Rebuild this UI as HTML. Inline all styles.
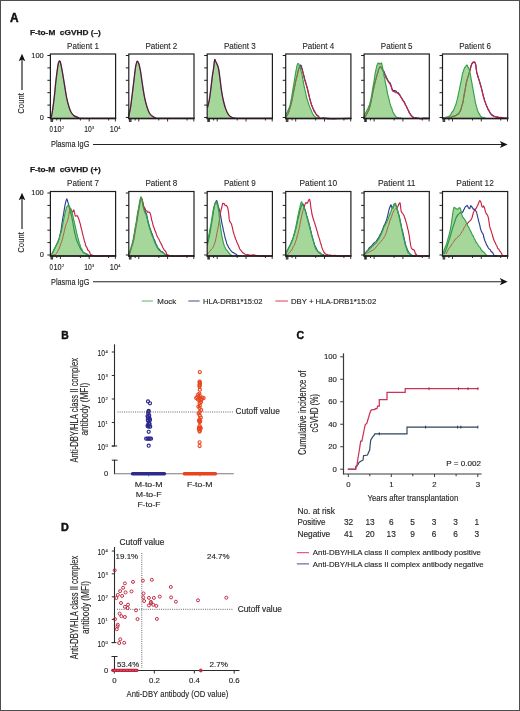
<!DOCTYPE html>
<html><head><meta charset="utf-8"><title>Figure</title>
<style>
html,body{margin:0;padding:0;background:#fff;}
body{width:520px;height:711px;overflow:hidden;}
svg{display:block;will-change:transform;}
text{font-family:"Liberation Sans", sans-serif;white-space:pre;}
</style></head>
<body>
<svg width="520" height="711" viewBox="0 0 520 711">
<rect x="0" y="0" width="520" height="711" fill="#fff"/>
<text x="10.1" y="21.6" font-size="12.2" font-weight="bold" textLength="8.6" lengthAdjust="spacingAndGlyphs" fill="#111" stroke="#111" stroke-width="0.45">A</text>
<g id="panelA">
<text x="30" y="34.7" font-size="7.8" font-weight="bold" textLength="70.8" lengthAdjust="spacingAndGlyphs" fill="#1a1a1a" stroke="#1a1a1a" stroke-width="0.25">F-to-M  cGVHD (–)</text>
<line x1="22" y1="58.3" x2="22" y2="89.89999999999999" stroke="#1a1a1a" stroke-width="1.15"/>
<path d="M22,53.699999999999996 L25.3,61.199999999999996 L22,59.599999999999994 L18.7,61.199999999999996 Z" stroke="none" stroke-width="0" fill="#111"/>
<text x="24.5" y="113.7" font-size="9.4" textLength="20.6" lengthAdjust="spacingAndGlyphs" transform="rotate(-90 24.5 113.7)" fill="#262626" stroke="#262626" stroke-width="0.14">Count</text>
<text x="43.8" y="57.6" font-size="7.4" text-anchor="end" textLength="12.5" lengthAdjust="spacingAndGlyphs" fill="#262626" stroke="#262626" stroke-width="0.14">100</text>
<text x="43.8" y="119.6" font-size="7.4" text-anchor="end" fill="#262626" stroke="#262626" stroke-width="0.14">0</text>
<text x="83.0" y="48.9" font-size="8.8" text-anchor="middle" textLength="31.8" lengthAdjust="spacingAndGlyphs" fill="#262626" stroke="#262626" stroke-width="0.1">Patient 1</text>
<clipPath id="f00"><path d="M50.48,117.50 C50.65,117.31 51.08,117.98 51.49,116.35 C51.90,114.71 52.45,111.06 52.93,107.69 C53.41,104.33 53.89,100.48 54.38,96.15 C54.86,91.83 55.34,86.06 55.82,81.73 C56.30,77.40 56.85,73.20 57.26,70.19 C57.67,67.19 57.91,65.26 58.27,63.70 C58.63,62.14 59.04,60.94 59.42,60.82 C59.81,60.70 60.10,61.18 60.58,62.98 C61.06,64.78 61.66,68.03 62.31,71.63 C62.96,75.24 63.75,80.29 64.47,84.62 C65.19,88.94 65.91,93.99 66.63,97.60 C67.36,101.20 68.08,103.85 68.80,106.25 C69.52,108.65 70.12,110.46 70.96,112.02 C71.80,113.58 72.64,114.71 73.85,115.62 C75.05,116.54 76.73,117.05 78.17,117.50 C79.62,117.95 76.25,118.17 82.50,118.30 C88.75,118.43 110.14,118.30 115.67,118.30 L115.67,118.0 L50.48,118.0 Z"/></clipPath>
<path d="M50.48,117.50 C50.65,117.31 51.08,117.98 51.49,116.35 C51.90,114.71 52.45,111.06 52.93,107.69 C53.41,104.33 53.89,100.48 54.38,96.15 C54.86,91.83 55.34,86.06 55.82,81.73 C56.30,77.40 56.85,73.20 57.26,70.19 C57.67,67.19 57.91,65.26 58.27,63.70 C58.63,62.14 59.04,60.94 59.42,60.82 C59.81,60.70 60.10,61.18 60.58,62.98 C61.06,64.78 61.66,68.03 62.31,71.63 C62.96,75.24 63.75,80.29 64.47,84.62 C65.19,88.94 65.91,93.99 66.63,97.60 C67.36,101.20 68.08,103.85 68.80,106.25 C69.52,108.65 70.12,110.46 70.96,112.02 C71.80,113.58 72.64,114.71 73.85,115.62 C75.05,116.54 76.73,117.05 78.17,117.50 C79.62,117.95 76.25,118.17 82.50,118.30 C88.75,118.43 110.14,118.30 115.67,118.30 L115.67,118.0 L50.48,118.0 Z" stroke="none" stroke-width="0" fill="#a6d79a"/>
<path d="M50.48,117.50 C50.65,117.31 51.08,117.98 51.49,116.35 C51.90,114.71 52.45,111.06 52.93,107.69 C53.41,104.33 53.89,100.48 54.38,96.15 C54.86,91.83 55.34,86.06 55.82,81.73 C56.30,77.40 56.85,73.20 57.26,70.19 C57.67,67.19 57.91,65.26 58.27,63.70 C58.63,62.14 59.04,60.94 59.42,60.82 C59.81,60.70 60.10,61.18 60.58,62.98 C61.06,64.78 61.66,68.03 62.31,71.63 C62.96,75.24 63.75,80.29 64.47,84.62 C65.19,88.94 65.91,93.99 66.63,97.60 C67.36,101.20 68.08,103.85 68.80,106.25 C69.52,108.65 70.12,110.46 70.96,112.02 C71.80,113.58 72.64,114.71 73.85,115.62 C75.05,116.54 76.73,117.05 78.17,117.50 C79.62,117.95 76.25,118.17 82.50,118.30 C88.75,118.43 110.14,118.30 115.67,118.30" stroke="#6a1b3a" stroke-width="1.3" fill="none" stroke-linejoin="round"/>
<path d="M50.48,117.50 C50.65,117.31 51.08,117.98 51.49,116.35 C51.90,114.71 52.45,111.06 52.93,107.69 C53.41,104.33 53.89,100.48 54.38,96.15 C54.86,91.83 55.34,86.06 55.82,81.73 C56.30,77.40 56.85,73.20 57.26,70.19 C57.67,67.19 57.91,65.26 58.27,63.70 C58.63,62.14 59.04,60.94 59.42,60.82 C59.81,60.70 60.10,61.18 60.58,62.98 C61.06,64.78 61.66,68.03 62.31,71.63 C62.96,75.24 63.75,80.29 64.47,84.62 C65.19,88.94 65.91,93.99 66.63,97.60 C67.36,101.20 68.08,103.85 68.80,106.25 C69.52,108.65 70.12,110.46 70.96,112.02 C71.80,113.58 72.64,114.71 73.85,115.62 C75.05,116.54 76.73,117.05 78.17,117.50 C79.62,117.95 76.25,118.17 82.50,118.30 C88.75,118.43 110.14,118.30 115.67,118.30" stroke="#1f2a44" stroke-width="0.7" fill="none" stroke-linejoin="round" stroke-opacity="0.6"/>
<rect x="50.4" y="54.0" width="65.2" height="64.5" fill="none" stroke="#1e1e1e" stroke-width="1.2"/>
<line x1="49.8" y1="118.5" x2="116.19999999999999" y2="118.5" stroke="#241a22" stroke-width="1.6"/>
<line x1="47.4" y1="55.5" x2="50.4" y2="55.5" stroke="#1e1e1e" stroke-width="1"/>
<line x1="47.4" y1="67.9" x2="50.4" y2="67.9" stroke="#1e1e1e" stroke-width="1"/>
<line x1="47.4" y1="80.3" x2="50.4" y2="80.3" stroke="#1e1e1e" stroke-width="1"/>
<line x1="47.4" y1="92.7" x2="50.4" y2="92.7" stroke="#1e1e1e" stroke-width="1"/>
<line x1="47.4" y1="105.1" x2="50.4" y2="105.1" stroke="#1e1e1e" stroke-width="1"/>
<line x1="47.4" y1="117.5" x2="50.4" y2="117.5" stroke="#1e1e1e" stroke-width="1"/>
<line x1="51.0" y1="118.5" x2="51.0" y2="122.0" stroke="#1e1e1e" stroke-width="0.9"/>
<line x1="51.8" y1="118.5" x2="51.8" y2="122.0" stroke="#1e1e1e" stroke-width="0.9"/>
<line x1="52.6" y1="118.5" x2="52.6" y2="122.0" stroke="#1e1e1e" stroke-width="0.9"/>
<line x1="56.8" y1="118.5" x2="56.8" y2="120.5" stroke="#1e1e1e" stroke-width="0.9"/>
<line x1="60.4" y1="118.5" x2="60.4" y2="121.5" stroke="#1e1e1e" stroke-width="0.9"/>
<line x1="80.4" y1="118.5" x2="80.4" y2="120.5" stroke="#1e1e1e" stroke-width="0.9"/>
<line x1="89.19999999999999" y1="118.5" x2="89.19999999999999" y2="121.5" stroke="#1e1e1e" stroke-width="0.9"/>
<line x1="108.6" y1="118.5" x2="108.6" y2="120.5" stroke="#1e1e1e" stroke-width="0.9"/>
<line x1="115.4" y1="118.5" x2="115.4" y2="121.5" stroke="#1e1e1e" stroke-width="0.9"/>
<text x="161.4" y="48.9" font-size="8.8" text-anchor="middle" textLength="31.8" lengthAdjust="spacingAndGlyphs" fill="#262626" stroke="#262626" stroke-width="0.1">Patient 2</text>
<clipPath id="f01"><path d="M128.33,117.50 C128.38,117.31 128.25,117.98 128.62,116.35 C128.98,114.71 129.87,111.54 130.49,107.69 C131.12,103.85 131.76,98.08 132.37,93.27 C132.97,88.46 133.57,83.17 134.10,78.85 C134.62,74.52 135.11,70.07 135.54,67.31 C135.97,64.54 136.38,63.27 136.69,62.26 C137.00,61.25 137.05,61.01 137.41,61.25 C137.77,61.49 138.33,61.97 138.86,63.70 C139.38,65.43 139.99,68.15 140.59,71.63 C141.19,75.12 141.79,80.29 142.46,84.62 C143.13,88.94 143.90,93.99 144.62,97.60 C145.35,101.20 146.02,103.73 146.79,106.25 C147.56,108.77 148.35,111.11 149.24,112.74 C150.13,114.38 150.92,115.13 152.12,116.06 C153.33,116.98 154.89,117.93 156.45,118.30 C158.01,118.67 155.32,118.30 161.50,118.30 C167.68,118.30 188.18,118.30 193.52,118.30 L193.52,118.0 L128.33,118.0 Z"/></clipPath>
<path d="M128.33,117.50 C128.38,117.31 128.25,117.98 128.62,116.35 C128.98,114.71 129.87,111.54 130.49,107.69 C131.12,103.85 131.76,98.08 132.37,93.27 C132.97,88.46 133.57,83.17 134.10,78.85 C134.62,74.52 135.11,70.07 135.54,67.31 C135.97,64.54 136.38,63.27 136.69,62.26 C137.00,61.25 137.05,61.01 137.41,61.25 C137.77,61.49 138.33,61.97 138.86,63.70 C139.38,65.43 139.99,68.15 140.59,71.63 C141.19,75.12 141.79,80.29 142.46,84.62 C143.13,88.94 143.90,93.99 144.62,97.60 C145.35,101.20 146.02,103.73 146.79,106.25 C147.56,108.77 148.35,111.11 149.24,112.74 C150.13,114.38 150.92,115.13 152.12,116.06 C153.33,116.98 154.89,117.93 156.45,118.30 C158.01,118.67 155.32,118.30 161.50,118.30 C167.68,118.30 188.18,118.30 193.52,118.30 L193.52,118.0 L128.33,118.0 Z" stroke="none" stroke-width="0" fill="#a6d79a"/>
<path d="M128.33,117.50 C128.38,117.31 128.25,117.98 128.62,116.35 C128.98,114.71 129.87,111.54 130.49,107.69 C131.12,103.85 131.76,98.08 132.37,93.27 C132.97,88.46 133.57,83.17 134.10,78.85 C134.62,74.52 135.11,70.07 135.54,67.31 C135.97,64.54 136.38,63.27 136.69,62.26 C137.00,61.25 137.05,61.01 137.41,61.25 C137.77,61.49 138.33,61.97 138.86,63.70 C139.38,65.43 139.99,68.15 140.59,71.63 C141.19,75.12 141.79,80.29 142.46,84.62 C143.13,88.94 143.90,93.99 144.62,97.60 C145.35,101.20 146.02,103.73 146.79,106.25 C147.56,108.77 148.35,111.11 149.24,112.74 C150.13,114.38 150.92,115.13 152.12,116.06 C153.33,116.98 154.89,117.93 156.45,118.30 C158.01,118.67 155.32,118.30 161.50,118.30 C167.68,118.30 188.18,118.30 193.52,118.30" stroke="#6a1b3a" stroke-width="1.3" fill="none" stroke-linejoin="round"/>
<path d="M128.33,117.50 C128.38,117.31 128.25,117.98 128.62,116.35 C128.98,114.71 129.87,111.54 130.49,107.69 C131.12,103.85 131.76,98.08 132.37,93.27 C132.97,88.46 133.57,83.17 134.10,78.85 C134.62,74.52 135.11,70.07 135.54,67.31 C135.97,64.54 136.38,63.27 136.69,62.26 C137.00,61.25 137.05,61.01 137.41,61.25 C137.77,61.49 138.33,61.97 138.86,63.70 C139.38,65.43 139.99,68.15 140.59,71.63 C141.19,75.12 141.79,80.29 142.46,84.62 C143.13,88.94 143.90,93.99 144.62,97.60 C145.35,101.20 146.02,103.73 146.79,106.25 C147.56,108.77 148.35,111.11 149.24,112.74 C150.13,114.38 150.92,115.13 152.12,116.06 C153.33,116.98 154.89,117.93 156.45,118.30 C158.01,118.67 155.32,118.30 161.50,118.30 C167.68,118.30 188.18,118.30 193.52,118.30" stroke="#1f2a44" stroke-width="0.7" fill="none" stroke-linejoin="round" stroke-opacity="0.6"/>
<rect x="128.8" y="54.0" width="65.2" height="64.5" fill="none" stroke="#1e1e1e" stroke-width="1.2"/>
<line x1="128.20000000000002" y1="118.5" x2="194.6" y2="118.5" stroke="#241a22" stroke-width="1.6"/>
<line x1="125.80000000000001" y1="55.5" x2="128.8" y2="55.5" stroke="#1e1e1e" stroke-width="1"/>
<line x1="125.80000000000001" y1="67.9" x2="128.8" y2="67.9" stroke="#1e1e1e" stroke-width="1"/>
<line x1="125.80000000000001" y1="80.3" x2="128.8" y2="80.3" stroke="#1e1e1e" stroke-width="1"/>
<line x1="125.80000000000001" y1="92.7" x2="128.8" y2="92.7" stroke="#1e1e1e" stroke-width="1"/>
<line x1="125.80000000000001" y1="105.1" x2="128.8" y2="105.1" stroke="#1e1e1e" stroke-width="1"/>
<line x1="125.80000000000001" y1="117.5" x2="128.8" y2="117.5" stroke="#1e1e1e" stroke-width="1"/>
<line x1="129.4" y1="118.5" x2="129.4" y2="122.0" stroke="#1e1e1e" stroke-width="0.9"/>
<line x1="130.20000000000002" y1="118.5" x2="130.20000000000002" y2="122.0" stroke="#1e1e1e" stroke-width="0.9"/>
<line x1="131.0" y1="118.5" x2="131.0" y2="122.0" stroke="#1e1e1e" stroke-width="0.9"/>
<line x1="135.20000000000002" y1="118.5" x2="135.20000000000002" y2="120.5" stroke="#1e1e1e" stroke-width="0.9"/>
<line x1="138.8" y1="118.5" x2="138.8" y2="121.5" stroke="#1e1e1e" stroke-width="0.9"/>
<line x1="158.8" y1="118.5" x2="158.8" y2="120.5" stroke="#1e1e1e" stroke-width="0.9"/>
<line x1="167.60000000000002" y1="118.5" x2="167.60000000000002" y2="121.5" stroke="#1e1e1e" stroke-width="0.9"/>
<line x1="187.0" y1="118.5" x2="187.0" y2="120.5" stroke="#1e1e1e" stroke-width="0.9"/>
<line x1="193.8" y1="118.5" x2="193.8" y2="121.5" stroke="#1e1e1e" stroke-width="0.9"/>
<text x="239.79999999999998" y="48.9" font-size="8.8" text-anchor="middle" textLength="31.8" lengthAdjust="spacingAndGlyphs" fill="#262626" stroke="#262626" stroke-width="0.1">Patient 3</text>
<clipPath id="f02"><path d="M207.48,107.69 C207.77,106.49 208.68,103.37 209.21,100.48 C209.74,97.60 210.12,94.47 210.65,90.38 C211.18,86.30 211.90,79.57 212.38,75.96 C212.87,72.36 213.15,71.44 213.54,68.75 C213.92,66.06 214.33,61.01 214.69,59.81 C215.05,58.61 215.29,60.77 215.70,61.54 C216.11,62.31 216.66,63.22 217.14,64.42 C217.62,65.62 218.11,66.35 218.59,68.75 C219.07,71.15 219.55,75.24 220.03,78.85 C220.51,82.45 220.92,86.78 221.47,90.38 C222.02,93.99 222.62,97.36 223.35,100.48 C224.07,103.61 224.91,106.73 225.80,109.13 C226.69,111.54 227.60,113.51 228.68,114.90 C229.76,116.30 230.49,116.93 232.29,117.50 C234.09,118.07 232.77,118.17 239.50,118.30 C246.23,118.43 267.14,118.30 272.67,118.30 L272.67,118.0 L207.48,118.0 Z"/></clipPath>
<path d="M207.48,107.69 C207.77,106.49 208.68,103.37 209.21,100.48 C209.74,97.60 210.12,94.47 210.65,90.38 C211.18,86.30 211.90,79.57 212.38,75.96 C212.87,72.36 213.15,71.44 213.54,68.75 C213.92,66.06 214.33,61.01 214.69,59.81 C215.05,58.61 215.29,60.77 215.70,61.54 C216.11,62.31 216.66,63.22 217.14,64.42 C217.62,65.62 218.11,66.35 218.59,68.75 C219.07,71.15 219.55,75.24 220.03,78.85 C220.51,82.45 220.92,86.78 221.47,90.38 C222.02,93.99 222.62,97.36 223.35,100.48 C224.07,103.61 224.91,106.73 225.80,109.13 C226.69,111.54 227.60,113.51 228.68,114.90 C229.76,116.30 230.49,116.93 232.29,117.50 C234.09,118.07 232.77,118.17 239.50,118.30 C246.23,118.43 267.14,118.30 272.67,118.30 L272.67,118.0 L207.48,118.0 Z" stroke="none" stroke-width="0" fill="#a6d79a"/>
<path d="M207.48,107.69 C207.77,106.49 208.68,103.37 209.21,100.48 C209.74,97.60 210.12,94.47 210.65,90.38 C211.18,86.30 211.90,79.57 212.38,75.96 C212.87,72.36 213.15,71.44 213.54,68.75 C213.92,66.06 214.33,61.01 214.69,59.81 C215.05,58.61 215.29,60.77 215.70,61.54 C216.11,62.31 216.66,63.22 217.14,64.42 C217.62,65.62 218.11,66.35 218.59,68.75 C219.07,71.15 219.55,75.24 220.03,78.85 C220.51,82.45 220.92,86.78 221.47,90.38 C222.02,93.99 222.62,97.36 223.35,100.48 C224.07,103.61 224.91,106.73 225.80,109.13 C226.69,111.54 227.60,113.51 228.68,114.90 C229.76,116.30 230.49,116.93 232.29,117.50 C234.09,118.07 232.77,118.17 239.50,118.30 C246.23,118.43 267.14,118.30 272.67,118.30" stroke="#6a1b3a" stroke-width="1.3" fill="none" stroke-linejoin="round"/>
<path d="M207.48,107.69 C207.77,106.49 208.68,103.37 209.21,100.48 C209.74,97.60 210.12,94.47 210.65,90.38 C211.18,86.30 211.90,79.57 212.38,75.96 C212.87,72.36 213.15,71.44 213.54,68.75 C213.92,66.06 214.33,61.01 214.69,59.81 C215.05,58.61 215.29,60.77 215.70,61.54 C216.11,62.31 216.66,63.22 217.14,64.42 C217.62,65.62 218.11,66.35 218.59,68.75 C219.07,71.15 219.55,75.24 220.03,78.85 C220.51,82.45 220.92,86.78 221.47,90.38 C222.02,93.99 222.62,97.36 223.35,100.48 C224.07,103.61 224.91,106.73 225.80,109.13 C226.69,111.54 227.60,113.51 228.68,114.90 C229.76,116.30 230.49,116.93 232.29,117.50 C234.09,118.07 232.77,118.17 239.50,118.30 C246.23,118.43 267.14,118.30 272.67,118.30" stroke="#1f2a44" stroke-width="0.7" fill="none" stroke-linejoin="round" stroke-opacity="0.6"/>
<rect x="207.2" y="54.0" width="65.2" height="64.5" fill="none" stroke="#1e1e1e" stroke-width="1.2"/>
<line x1="206.6" y1="118.5" x2="273.0" y2="118.5" stroke="#241a22" stroke-width="1.6"/>
<line x1="204.2" y1="55.5" x2="207.2" y2="55.5" stroke="#1e1e1e" stroke-width="1"/>
<line x1="204.2" y1="67.9" x2="207.2" y2="67.9" stroke="#1e1e1e" stroke-width="1"/>
<line x1="204.2" y1="80.3" x2="207.2" y2="80.3" stroke="#1e1e1e" stroke-width="1"/>
<line x1="204.2" y1="92.7" x2="207.2" y2="92.7" stroke="#1e1e1e" stroke-width="1"/>
<line x1="204.2" y1="105.1" x2="207.2" y2="105.1" stroke="#1e1e1e" stroke-width="1"/>
<line x1="204.2" y1="117.5" x2="207.2" y2="117.5" stroke="#1e1e1e" stroke-width="1"/>
<line x1="207.79999999999998" y1="118.5" x2="207.79999999999998" y2="122.0" stroke="#1e1e1e" stroke-width="0.9"/>
<line x1="208.6" y1="118.5" x2="208.6" y2="122.0" stroke="#1e1e1e" stroke-width="0.9"/>
<line x1="209.39999999999998" y1="118.5" x2="209.39999999999998" y2="122.0" stroke="#1e1e1e" stroke-width="0.9"/>
<line x1="213.6" y1="118.5" x2="213.6" y2="120.5" stroke="#1e1e1e" stroke-width="0.9"/>
<line x1="217.2" y1="118.5" x2="217.2" y2="121.5" stroke="#1e1e1e" stroke-width="0.9"/>
<line x1="237.2" y1="118.5" x2="237.2" y2="120.5" stroke="#1e1e1e" stroke-width="0.9"/>
<line x1="246.0" y1="118.5" x2="246.0" y2="121.5" stroke="#1e1e1e" stroke-width="0.9"/>
<line x1="265.4" y1="118.5" x2="265.4" y2="120.5" stroke="#1e1e1e" stroke-width="0.9"/>
<line x1="272.2" y1="118.5" x2="272.2" y2="121.5" stroke="#1e1e1e" stroke-width="0.9"/>
<text x="318.29999999999995" y="48.9" font-size="8.8" text-anchor="middle" textLength="31.8" lengthAdjust="spacingAndGlyphs" fill="#262626" stroke="#262626" stroke-width="0.1">Patient 4</text>
<clipPath id="f03"><path d="M285.48,117.50 C285.65,116.83 285.72,115.58 286.49,113.46 C287.26,111.35 288.89,109.62 290.10,104.81 C291.30,100.00 292.74,90.14 293.70,84.62 C294.66,79.09 295.22,75.12 295.87,71.63 C296.51,68.15 297.00,64.66 297.60,63.70 C298.20,62.74 298.80,64.30 299.47,65.87 C300.14,67.43 300.91,69.95 301.63,73.08 C302.36,76.20 303.08,81.01 303.80,84.62 C304.52,88.22 305.12,91.35 305.96,94.71 C306.80,98.08 307.76,101.68 308.85,104.81 C309.93,107.93 311.37,111.42 312.45,113.46 C313.53,115.50 314.25,116.26 315.34,117.07 C316.42,117.87 318.34,118.09 318.94,118.30 L318.94,118.0 L285.48,118.0 Z"/></clipPath>
<path d="M285.48,118.30 L285.92,117.07 L286.54,116.07 L287.25,115.01 L287.99,113.79 L288.65,111.69 L289.25,109.96 L289.83,108.22 L290.40,106.69 L290.97,103.96 L291.54,102.14 L292.12,99.44 L292.69,96.07 L293.27,93.41 L293.85,90.31 L294.42,87.42 L295.01,85.18 L295.61,81.60 L296.21,78.85 L296.78,77.17 L297.31,74.43 L297.80,72.23 L298.26,70.52 L298.69,68.93 L299.10,68.09 L299.47,66.33 L299.81,65.54 L300.10,65.34 L300.37,65.04 L300.64,65.37 L300.91,65.45 L301.19,65.44 L301.46,65.99 L301.73,67.45 L302.02,68.68 L302.36,69.05 L302.73,71.11 L303.13,72.86 L303.57,74.46 L304.03,75.95 L304.52,78.39 L305.05,80.30 L305.62,81.88 L306.22,84.41 L306.82,86.20 L307.40,88.24 L307.97,90.77 L308.52,93.12 L309.08,95.54 L309.67,98.09 L310.29,100.49 L310.95,102.78 L311.64,104.96 L312.37,107.05 L313.12,108.81 L313.89,110.11 L314.70,111.53 L315.54,113.31 L316.40,114.45 L317.30,115.62 L318.22,115.98 L318.83,116.75 L319.12,117.90 L319.61,117.95 L320.82,118.28 L323.27,117.94 L327.76,118.33 L333.94,118.81 L340.61,118.53 L346.59,118.77 L350.67,118.30" stroke="#2b3f8f" stroke-width="1.15" fill="none" stroke-linejoin="round"/>
<path d="M285.48,118.30 L285.92,117.17 L286.54,116.27 L287.25,115.11 L287.99,114.22 L288.65,112.30 L289.25,110.82 L289.83,108.41 L290.40,106.77 L290.97,104.88 L291.54,102.23 L292.12,99.98 L292.69,97.03 L293.27,93.55 L293.85,90.20 L294.42,88.02 L295.01,84.67 L295.61,81.77 L296.21,79.72 L296.78,77.32 L297.31,75.11 L297.80,73.30 L298.26,70.92 L298.69,69.35 L299.10,68.18 L299.47,68.03 L299.81,66.64 L300.10,66.39 L300.37,66.21 L300.64,66.36 L300.91,66.60 L301.19,67.24 L301.46,67.56 L301.73,68.36 L302.02,69.78 L302.36,70.18 L302.73,72.14 L303.13,73.71 L303.57,75.38 L304.03,77.30 L304.52,79.38 L305.05,81.12 L305.62,82.76 L306.22,84.87 L306.82,86.87 L307.40,89.14 L307.97,91.91 L308.52,93.75 L309.08,95.80 L309.67,98.51 L310.29,101.05 L310.95,102.90 L311.64,105.30 L312.37,106.84 L313.12,108.75 L313.89,111.01 L314.70,111.96 L315.54,113.50 L316.40,114.73 L317.30,115.54 L318.22,116.22 L318.83,116.81 L319.12,118.08 L319.61,118.12 L320.82,118.55 L323.27,118.29 L327.76,118.82 L333.94,118.75 L340.61,118.49 L346.59,118.35 L350.67,118.30" stroke="#c8203f" stroke-width="1.15" fill="none" stroke-linejoin="round"/>
<path d="M285.48,117.50 C285.65,116.83 285.72,115.58 286.49,113.46 C287.26,111.35 288.89,109.62 290.10,104.81 C291.30,100.00 292.74,90.14 293.70,84.62 C294.66,79.09 295.22,75.12 295.87,71.63 C296.51,68.15 297.00,64.66 297.60,63.70 C298.20,62.74 298.80,64.30 299.47,65.87 C300.14,67.43 300.91,69.95 301.63,73.08 C302.36,76.20 303.08,81.01 303.80,84.62 C304.52,88.22 305.12,91.35 305.96,94.71 C306.80,98.08 307.76,101.68 308.85,104.81 C309.93,107.93 311.37,111.42 312.45,113.46 C313.53,115.50 314.25,116.26 315.34,117.07 C316.42,117.87 318.34,118.09 318.94,118.30 L318.94,118.0 L285.48,118.0 Z" stroke="none" stroke-width="0" fill="#a6d79a"/>
<g clip-path="url(#f03)">
<path d="M285.48,118.30 L285.92,117.07 L286.54,116.07 L287.25,115.01 L287.99,113.79 L288.65,111.69 L289.25,109.96 L289.83,108.22 L290.40,106.69 L290.97,103.96 L291.54,102.14 L292.12,99.44 L292.69,96.07 L293.27,93.41 L293.85,90.31 L294.42,87.42 L295.01,85.18 L295.61,81.60 L296.21,78.85 L296.78,77.17 L297.31,74.43 L297.80,72.23 L298.26,70.52 L298.69,68.93 L299.10,68.09 L299.47,66.33 L299.81,65.54 L300.10,65.34 L300.37,65.04 L300.64,65.37 L300.91,65.45 L301.19,65.44 L301.46,65.99 L301.73,67.45 L302.02,68.68 L302.36,69.05 L302.73,71.11 L303.13,72.86 L303.57,74.46 L304.03,75.95 L304.52,78.39 L305.05,80.30 L305.62,81.88 L306.22,84.41 L306.82,86.20 L307.40,88.24 L307.97,90.77 L308.52,93.12 L309.08,95.54 L309.67,98.09 L310.29,100.49 L310.95,102.78 L311.64,104.96 L312.37,107.05 L313.12,108.81 L313.89,110.11 L314.70,111.53 L315.54,113.31 L316.40,114.45 L317.30,115.62 L318.22,115.98 L318.83,116.75 L319.12,117.90 L319.61,117.95 L320.82,118.28 L323.27,117.94 L327.76,118.33 L333.94,118.81 L340.61,118.53 L346.59,118.77 L350.67,118.30" stroke="#2f8f55" stroke-width="1.15" fill="none" stroke-linejoin="round"/>
<path d="M285.48,118.30 L285.92,117.17 L286.54,116.27 L287.25,115.11 L287.99,114.22 L288.65,112.30 L289.25,110.82 L289.83,108.41 L290.40,106.77 L290.97,104.88 L291.54,102.23 L292.12,99.98 L292.69,97.03 L293.27,93.55 L293.85,90.20 L294.42,88.02 L295.01,84.67 L295.61,81.77 L296.21,79.72 L296.78,77.32 L297.31,75.11 L297.80,73.30 L298.26,70.92 L298.69,69.35 L299.10,68.18 L299.47,68.03 L299.81,66.64 L300.10,66.39 L300.37,66.21 L300.64,66.36 L300.91,66.60 L301.19,67.24 L301.46,67.56 L301.73,68.36 L302.02,69.78 L302.36,70.18 L302.73,72.14 L303.13,73.71 L303.57,75.38 L304.03,77.30 L304.52,79.38 L305.05,81.12 L305.62,82.76 L306.22,84.87 L306.82,86.87 L307.40,89.14 L307.97,91.91 L308.52,93.75 L309.08,95.80 L309.67,98.51 L310.29,101.05 L310.95,102.90 L311.64,105.30 L312.37,106.84 L313.12,108.75 L313.89,111.01 L314.70,111.96 L315.54,113.50 L316.40,114.73 L317.30,115.54 L318.22,116.22 L318.83,116.81 L319.12,118.08 L319.61,118.12 L320.82,118.55 L323.27,118.29 L327.76,118.82 L333.94,118.75 L340.61,118.49 L346.59,118.35 L350.67,118.30" stroke="#a4663e" stroke-width="1.0" fill="none" stroke-linejoin="round"/>
</g>
<path d="M285.48,117.50 L285.58,117.09 L285.69,116.52 L285.85,115.89 L286.11,114.43 L286.49,113.60 L287.05,112.56 L287.75,111.25 L288.53,109.04 L289.33,107.49 L290.10,104.91 L290.84,101.40 L291.61,97.63 L292.36,92.75 L293.07,88.33 L293.70,85.01 L294.23,81.60 L294.69,78.48 L295.10,75.95 L295.48,73.79 L295.87,71.23 L296.24,69.66 L296.58,67.83 L296.91,65.84 L297.25,64.87 L297.60,64.09 L297.96,63.46 L298.32,63.76 L298.69,63.81 L299.08,64.55 L299.47,66.30 L299.89,66.72 L300.32,67.92 L300.76,70.00 L301.20,71.50 L301.63,72.74 L302.07,74.97 L302.50,77.22 L302.93,79.69 L303.37,81.89 L303.80,84.64 L304.22,86.55 L304.63,88.66 L305.04,90.46 L305.48,92.36 L305.96,94.29 L306.48,97.09 L307.03,99.04 L307.61,100.93 L308.21,102.54 L308.85,104.49 L309.53,106.37 L310.27,108.45 L311.03,110.03 L311.77,111.87 L312.45,113.19 L313.06,114.27 L313.62,115.52 L314.17,116.00 L314.73,116.55 L315.34,116.94 L316.07,117.52 L316.90,118.05 L317.73,117.84 L318.44,117.78 L318.94,118.30" stroke="#34a049" stroke-width="1.15" fill="none" stroke-linejoin="round"/>
<rect x="285.7" y="54.0" width="65.2" height="64.5" fill="none" stroke="#1e1e1e" stroke-width="1.2"/>
<line x1="285.09999999999997" y1="118.5" x2="351.5" y2="118.5" stroke="#241a22" stroke-width="1.6"/>
<line x1="282.7" y1="55.5" x2="285.7" y2="55.5" stroke="#1e1e1e" stroke-width="1"/>
<line x1="282.7" y1="67.9" x2="285.7" y2="67.9" stroke="#1e1e1e" stroke-width="1"/>
<line x1="282.7" y1="80.3" x2="285.7" y2="80.3" stroke="#1e1e1e" stroke-width="1"/>
<line x1="282.7" y1="92.7" x2="285.7" y2="92.7" stroke="#1e1e1e" stroke-width="1"/>
<line x1="282.7" y1="105.1" x2="285.7" y2="105.1" stroke="#1e1e1e" stroke-width="1"/>
<line x1="282.7" y1="117.5" x2="285.7" y2="117.5" stroke="#1e1e1e" stroke-width="1"/>
<line x1="286.3" y1="118.5" x2="286.3" y2="122.0" stroke="#1e1e1e" stroke-width="0.9"/>
<line x1="287.09999999999997" y1="118.5" x2="287.09999999999997" y2="122.0" stroke="#1e1e1e" stroke-width="0.9"/>
<line x1="287.9" y1="118.5" x2="287.9" y2="122.0" stroke="#1e1e1e" stroke-width="0.9"/>
<line x1="292.09999999999997" y1="118.5" x2="292.09999999999997" y2="120.5" stroke="#1e1e1e" stroke-width="0.9"/>
<line x1="295.7" y1="118.5" x2="295.7" y2="121.5" stroke="#1e1e1e" stroke-width="0.9"/>
<line x1="315.7" y1="118.5" x2="315.7" y2="120.5" stroke="#1e1e1e" stroke-width="0.9"/>
<line x1="324.5" y1="118.5" x2="324.5" y2="121.5" stroke="#1e1e1e" stroke-width="0.9"/>
<line x1="343.9" y1="118.5" x2="343.9" y2="120.5" stroke="#1e1e1e" stroke-width="0.9"/>
<line x1="350.7" y1="118.5" x2="350.7" y2="121.5" stroke="#1e1e1e" stroke-width="0.9"/>
<text x="396.70000000000005" y="48.9" font-size="8.8" text-anchor="middle" textLength="31.8" lengthAdjust="spacingAndGlyphs" fill="#262626" stroke="#262626" stroke-width="0.1">Patient 5</text>
<clipPath id="f04"><path d="M363.77,117.50 C364.01,116.83 364.25,115.58 365.21,113.46 C366.17,111.35 368.34,108.65 369.54,104.81 C370.74,100.96 371.46,95.67 372.42,90.38 C373.38,85.10 374.54,77.28 375.31,73.08 C376.08,68.87 376.51,66.78 377.04,65.14 C377.57,63.51 378.00,63.49 378.48,63.27 C378.96,63.05 379.42,63.85 379.92,63.85 C380.43,63.85 381.03,62.45 381.51,63.27 C381.99,64.09 382.28,66.15 382.81,68.75 C383.34,71.35 383.89,74.76 384.68,78.85 C385.48,82.93 386.61,88.94 387.57,93.27 C388.53,97.60 389.37,101.32 390.45,104.81 C391.53,108.29 392.98,112.07 394.06,114.18 C395.14,116.30 395.74,116.81 396.94,117.50 C398.14,118.19 400.55,118.17 401.27,118.30 L401.27,118.0 L363.77,118.0 Z"/></clipPath>
<path d="M363.77,118.30 L363.92,118.03 L364.10,117.74 L364.36,117.40 L364.72,117.57 L365.21,116.42 L365.89,115.40 L366.73,113.97 L367.67,112.20 L368.63,110.48 L369.54,107.76 L370.43,104.51 L371.34,100.18 L372.24,95.81 L373.09,91.11 L373.87,87.19 L374.53,84.28 L375.12,82.34 L375.67,79.68 L376.20,78.10 L376.75,76.07 L377.34,73.44 L377.94,71.96 L378.53,69.30 L379.10,68.43 L379.63,67.33 L380.11,66.36 L380.55,66.97 L380.97,67.47 L381.38,67.56 L381.80,68.61 L382.23,68.62 L382.66,69.89 L383.10,70.32 L383.53,71.28 L383.96,71.23 L384.39,72.37 L384.83,73.66 L385.26,74.72 L385.69,75.40 L386.12,77.03 L386.56,77.93 L386.99,78.36 L387.42,79.10 L387.86,80.40 L388.29,80.93 L388.72,81.78 L389.15,82.12 L389.59,82.51 L390.02,82.73 L390.45,83.57 L390.87,84.90 L391.28,86.41 L391.70,87.46 L392.14,88.96 L392.62,89.70 L393.15,90.56 L393.72,90.67 L394.31,90.55 L394.91,90.53 L395.50,90.71 L396.08,91.00 L396.65,92.03 L397.23,92.37 L397.81,92.67 L398.38,92.63 L398.96,93.83 L399.54,94.19 L400.12,95.79 L400.69,96.52 L401.27,97.53 L401.85,98.29 L402.42,99.00 L403.00,100.29 L403.58,101.34 L404.15,101.69 L404.73,102.95 L405.31,104.36 L405.88,105.49 L406.46,106.44 L407.04,107.65 L407.62,109.30 L408.19,109.90 L408.77,111.05 L409.35,112.61 L409.92,113.26 L410.50,114.72 L411.08,115.02 L411.65,116.28 L412.23,116.42 L412.81,117.41 L413.22,117.71 L413.48,118.00 L413.81,117.75 L414.47,117.87 L415.69,117.88 L417.85,118.09 L420.78,118.54 L423.93,117.97 L426.75,118.08 L428.67,118.30" stroke="#2b3f8f" stroke-width="1.15" fill="none" stroke-linejoin="round"/>
<path d="M363.77,118.30 L363.92,118.27 L364.10,117.55 L364.36,117.50 L364.72,116.95 L365.21,116.56 L365.89,115.38 L366.73,114.26 L367.67,111.91 L368.63,110.18 L369.54,107.27 L370.43,104.04 L371.34,100.14 L372.24,95.26 L373.09,91.14 L373.87,87.92 L374.53,84.94 L375.12,82.18 L375.67,80.34 L376.20,78.52 L376.75,75.81 L377.34,74.45 L377.94,72.27 L378.53,70.05 L379.10,68.32 L379.63,68.01 L380.11,67.05 L380.55,66.96 L380.97,67.43 L381.38,68.74 L381.80,69.13 L382.23,69.95 L382.66,70.65 L383.10,71.33 L383.53,72.62 L383.96,72.97 L384.39,74.01 L384.83,75.19 L385.26,75.95 L385.69,77.10 L386.12,77.76 L386.56,78.78 L386.99,79.10 L387.42,80.16 L387.86,81.06 L388.29,81.64 L388.72,82.40 L389.15,82.78 L389.59,83.41 L390.02,84.29 L390.45,84.78 L390.87,85.83 L391.28,86.95 L391.70,88.33 L392.14,90.14 L392.62,90.81 L393.15,91.34 L393.72,91.27 L394.31,91.95 L394.91,91.59 L395.50,92.01 L396.08,92.80 L396.65,92.68 L397.23,92.82 L397.81,93.25 L398.38,93.87 L398.96,94.49 L399.54,94.84 L400.12,95.59 L400.69,96.81 L401.27,97.68 L401.85,98.47 L402.42,99.94 L403.00,100.72 L403.58,101.09 L404.15,102.35 L404.73,103.18 L405.31,104.79 L405.88,105.57 L406.46,106.59 L407.04,107.75 L407.62,109.23 L408.19,110.19 L408.77,111.69 L409.35,113.11 L409.92,113.66 L410.50,114.35 L411.08,115.80 L411.65,116.02 L412.23,116.21 L412.81,116.66 L413.22,117.12 L413.48,117.88 L413.81,118.26 L414.47,118.10 L415.69,117.91 L417.85,118.27 L420.78,118.84 L423.93,118.39 L426.75,118.74 L428.67,118.30" stroke="#c8203f" stroke-width="1.15" fill="none" stroke-linejoin="round"/>
<path d="M363.77,117.50 C364.01,116.83 364.25,115.58 365.21,113.46 C366.17,111.35 368.34,108.65 369.54,104.81 C370.74,100.96 371.46,95.67 372.42,90.38 C373.38,85.10 374.54,77.28 375.31,73.08 C376.08,68.87 376.51,66.78 377.04,65.14 C377.57,63.51 378.00,63.49 378.48,63.27 C378.96,63.05 379.42,63.85 379.92,63.85 C380.43,63.85 381.03,62.45 381.51,63.27 C381.99,64.09 382.28,66.15 382.81,68.75 C383.34,71.35 383.89,74.76 384.68,78.85 C385.48,82.93 386.61,88.94 387.57,93.27 C388.53,97.60 389.37,101.32 390.45,104.81 C391.53,108.29 392.98,112.07 394.06,114.18 C395.14,116.30 395.74,116.81 396.94,117.50 C398.14,118.19 400.55,118.17 401.27,118.30 L401.27,118.0 L363.77,118.0 Z" stroke="none" stroke-width="0" fill="#a6d79a"/>
<g clip-path="url(#f04)">
<path d="M363.77,118.30 L363.92,118.03 L364.10,117.74 L364.36,117.40 L364.72,117.57 L365.21,116.42 L365.89,115.40 L366.73,113.97 L367.67,112.20 L368.63,110.48 L369.54,107.76 L370.43,104.51 L371.34,100.18 L372.24,95.81 L373.09,91.11 L373.87,87.19 L374.53,84.28 L375.12,82.34 L375.67,79.68 L376.20,78.10 L376.75,76.07 L377.34,73.44 L377.94,71.96 L378.53,69.30 L379.10,68.43 L379.63,67.33 L380.11,66.36 L380.55,66.97 L380.97,67.47 L381.38,67.56 L381.80,68.61 L382.23,68.62 L382.66,69.89 L383.10,70.32 L383.53,71.28 L383.96,71.23 L384.39,72.37 L384.83,73.66 L385.26,74.72 L385.69,75.40 L386.12,77.03 L386.56,77.93 L386.99,78.36 L387.42,79.10 L387.86,80.40 L388.29,80.93 L388.72,81.78 L389.15,82.12 L389.59,82.51 L390.02,82.73 L390.45,83.57 L390.87,84.90 L391.28,86.41 L391.70,87.46 L392.14,88.96 L392.62,89.70 L393.15,90.56 L393.72,90.67 L394.31,90.55 L394.91,90.53 L395.50,90.71 L396.08,91.00 L396.65,92.03 L397.23,92.37 L397.81,92.67 L398.38,92.63 L398.96,93.83 L399.54,94.19 L400.12,95.79 L400.69,96.52 L401.27,97.53 L401.85,98.29 L402.42,99.00 L403.00,100.29 L403.58,101.34 L404.15,101.69 L404.73,102.95 L405.31,104.36 L405.88,105.49 L406.46,106.44 L407.04,107.65 L407.62,109.30 L408.19,109.90 L408.77,111.05 L409.35,112.61 L409.92,113.26 L410.50,114.72 L411.08,115.02 L411.65,116.28 L412.23,116.42 L412.81,117.41 L413.22,117.71 L413.48,118.00 L413.81,117.75 L414.47,117.87 L415.69,117.88 L417.85,118.09 L420.78,118.54 L423.93,117.97 L426.75,118.08 L428.67,118.30" stroke="#2f8f55" stroke-width="1.15" fill="none" stroke-linejoin="round"/>
<path d="M363.77,118.30 L363.92,118.27 L364.10,117.55 L364.36,117.50 L364.72,116.95 L365.21,116.56 L365.89,115.38 L366.73,114.26 L367.67,111.91 L368.63,110.18 L369.54,107.27 L370.43,104.04 L371.34,100.14 L372.24,95.26 L373.09,91.14 L373.87,87.92 L374.53,84.94 L375.12,82.18 L375.67,80.34 L376.20,78.52 L376.75,75.81 L377.34,74.45 L377.94,72.27 L378.53,70.05 L379.10,68.32 L379.63,68.01 L380.11,67.05 L380.55,66.96 L380.97,67.43 L381.38,68.74 L381.80,69.13 L382.23,69.95 L382.66,70.65 L383.10,71.33 L383.53,72.62 L383.96,72.97 L384.39,74.01 L384.83,75.19 L385.26,75.95 L385.69,77.10 L386.12,77.76 L386.56,78.78 L386.99,79.10 L387.42,80.16 L387.86,81.06 L388.29,81.64 L388.72,82.40 L389.15,82.78 L389.59,83.41 L390.02,84.29 L390.45,84.78 L390.87,85.83 L391.28,86.95 L391.70,88.33 L392.14,90.14 L392.62,90.81 L393.15,91.34 L393.72,91.27 L394.31,91.95 L394.91,91.59 L395.50,92.01 L396.08,92.80 L396.65,92.68 L397.23,92.82 L397.81,93.25 L398.38,93.87 L398.96,94.49 L399.54,94.84 L400.12,95.59 L400.69,96.81 L401.27,97.68 L401.85,98.47 L402.42,99.94 L403.00,100.72 L403.58,101.09 L404.15,102.35 L404.73,103.18 L405.31,104.79 L405.88,105.57 L406.46,106.59 L407.04,107.75 L407.62,109.23 L408.19,110.19 L408.77,111.69 L409.35,113.11 L409.92,113.66 L410.50,114.35 L411.08,115.80 L411.65,116.02 L412.23,116.21 L412.81,116.66 L413.22,117.12 L413.48,117.88 L413.81,118.26 L414.47,118.10 L415.69,117.91 L417.85,118.27 L420.78,118.84 L423.93,118.39 L426.75,118.74 L428.67,118.30" stroke="#a4663e" stroke-width="1.0" fill="none" stroke-linejoin="round"/>
</g>
<path d="M363.77,117.50 L363.92,116.61 L364.10,116.57 L364.36,115.28 L364.72,114.60 L365.21,113.62 L365.92,112.38 L366.80,110.57 L367.77,108.90 L368.72,106.55 L369.54,104.75 L370.21,102.22 L370.80,99.91 L371.34,96.68 L371.87,93.78 L372.42,90.33 L373.02,86.67 L373.63,83.54 L374.24,79.75 L374.80,75.87 L375.31,72.71 L375.73,70.80 L376.10,68.93 L376.42,67.68 L376.73,66.28 L377.04,65.15 L377.35,64.41 L377.64,63.73 L377.92,63.15 L378.20,63.00 L378.48,63.67 L378.77,63.55 L379.05,63.20 L379.34,63.93 L379.63,63.79 L379.92,63.49 L380.24,64.03 L380.56,63.48 L380.89,63.51 L381.21,63.18 L381.51,62.90 L381.78,64.01 L382.02,65.06 L382.26,66.29 L382.52,67.11 L382.81,68.78 L383.13,70.59 L383.47,71.95 L383.83,74.59 L384.23,76.73 L384.68,78.44 L385.20,81.58 L385.76,84.32 L386.37,87.22 L386.97,90.59 L387.57,93.69 L388.13,95.84 L388.69,97.85 L389.25,100.48 L389.83,102.94 L390.45,105.22 L391.14,107.11 L391.88,108.59 L392.63,111.39 L393.37,112.82 L394.06,113.81 L394.66,114.94 L395.19,115.69 L395.72,116.79 L396.28,116.78 L396.94,117.78 L397.78,117.48 L398.78,118.07 L399.78,118.11 L400.66,117.82 L401.27,118.30" stroke="#34a049" stroke-width="1.15" fill="none" stroke-linejoin="round"/>
<rect x="364.1" y="54.0" width="65.2" height="64.5" fill="none" stroke="#1e1e1e" stroke-width="1.2"/>
<line x1="363.5" y1="118.5" x2="429.90000000000003" y2="118.5" stroke="#241a22" stroke-width="1.6"/>
<line x1="361.1" y1="55.5" x2="364.1" y2="55.5" stroke="#1e1e1e" stroke-width="1"/>
<line x1="361.1" y1="67.9" x2="364.1" y2="67.9" stroke="#1e1e1e" stroke-width="1"/>
<line x1="361.1" y1="80.3" x2="364.1" y2="80.3" stroke="#1e1e1e" stroke-width="1"/>
<line x1="361.1" y1="92.7" x2="364.1" y2="92.7" stroke="#1e1e1e" stroke-width="1"/>
<line x1="361.1" y1="105.1" x2="364.1" y2="105.1" stroke="#1e1e1e" stroke-width="1"/>
<line x1="361.1" y1="117.5" x2="364.1" y2="117.5" stroke="#1e1e1e" stroke-width="1"/>
<line x1="364.70000000000005" y1="118.5" x2="364.70000000000005" y2="122.0" stroke="#1e1e1e" stroke-width="0.9"/>
<line x1="365.5" y1="118.5" x2="365.5" y2="122.0" stroke="#1e1e1e" stroke-width="0.9"/>
<line x1="366.3" y1="118.5" x2="366.3" y2="122.0" stroke="#1e1e1e" stroke-width="0.9"/>
<line x1="370.5" y1="118.5" x2="370.5" y2="120.5" stroke="#1e1e1e" stroke-width="0.9"/>
<line x1="374.1" y1="118.5" x2="374.1" y2="121.5" stroke="#1e1e1e" stroke-width="0.9"/>
<line x1="394.1" y1="118.5" x2="394.1" y2="120.5" stroke="#1e1e1e" stroke-width="0.9"/>
<line x1="402.90000000000003" y1="118.5" x2="402.90000000000003" y2="121.5" stroke="#1e1e1e" stroke-width="0.9"/>
<line x1="422.3" y1="118.5" x2="422.3" y2="120.5" stroke="#1e1e1e" stroke-width="0.9"/>
<line x1="429.1" y1="118.5" x2="429.1" y2="121.5" stroke="#1e1e1e" stroke-width="0.9"/>
<text x="475.1" y="48.9" font-size="8.8" text-anchor="middle" textLength="31.8" lengthAdjust="spacingAndGlyphs" fill="#262626" stroke="#262626" stroke-width="0.1">Patient 6</text>
<clipPath id="f05"><path d="M442.48,118.30 C443.49,117.97 447.05,117.15 448.54,116.35 C450.03,115.54 450.22,115.38 451.42,113.46 C452.62,111.54 454.55,108.17 455.75,104.81 C456.95,101.44 457.67,97.60 458.63,93.27 C459.60,88.94 460.68,82.69 461.52,78.85 C462.36,75.00 462.84,72.48 463.68,70.19 C464.52,67.91 465.85,65.62 466.57,65.14 C467.29,64.66 467.53,66.47 468.01,67.31 C468.49,68.15 468.85,67.79 469.45,70.19 C470.05,72.60 470.89,77.88 471.62,81.73 C472.34,85.58 473.06,89.42 473.78,93.27 C474.50,97.12 475.10,101.44 475.94,104.81 C476.78,108.17 477.87,111.42 478.83,113.46 C479.79,115.50 480.51,116.26 481.71,117.07 C482.91,117.87 485.32,118.09 486.04,118.30 L486.04,118.0 L442.48,118.0 Z"/></clipPath>
<path d="M442.48,118.30 L443.36,117.91 L444.62,117.91 L446.05,117.34 L447.43,117.68 L448.54,116.97 L449.25,117.20 L449.71,117.57 L450.11,117.14 L450.62,117.59 L451.42,117.13 L452.65,116.56 L454.17,116.13 L455.80,115.45 L457.35,114.41 L458.63,113.91 L459.61,112.02 L460.41,110.95 L461.08,109.04 L461.67,106.38 L462.24,104.59 L462.77,102.66 L463.21,100.68 L463.61,97.73 L463.99,95.73 L464.40,93.15 L464.84,91.15 L465.27,88.84 L465.70,86.29 L466.13,83.50 L466.57,81.97 L466.99,79.96 L467.40,78.87 L467.81,77.20 L468.25,76.20 L468.73,74.67 L469.27,72.54 L469.85,70.29 L470.45,68.00 L471.05,65.76 L471.62,63.84 L472.17,63.58 L472.73,62.51 L473.27,61.79 L473.77,62.05 L474.21,62.04 L474.58,61.95 L474.89,62.91 L475.16,62.59 L475.41,63.94 L475.65,64.47 L475.87,65.26 L476.03,66.83 L476.20,68.47 L476.39,69.77 L476.66,71.87 L477.01,73.17 L477.41,74.81 L477.85,76.05 L478.33,77.48 L478.83,79.29 L479.36,81.05 L479.93,82.74 L480.52,84.70 L481.12,86.81 L481.71,89.22 L482.28,91.59 L482.83,93.89 L483.39,96.31 L483.97,97.91 L484.60,100.41 L485.27,102.07 L485.99,104.37 L486.73,106.09 L487.47,107.69 L488.20,109.46 L488.89,110.28 L489.54,112.03 L490.21,113.07 L490.95,113.77 L491.81,115.33 L492.78,115.18 L493.82,116.04 L494.96,116.47 L496.20,116.84 L497.58,117.50 L499.24,117.44 L501.18,118.03 L503.15,117.76 L504.92,118.13 L506.23,117.98 L507.00,118.50 L507.40,118.32 L507.55,118.62 L507.59,117.97 L507.67,118.30" stroke="#2b3f8f" stroke-width="1.15" fill="none" stroke-linejoin="round"/>
<path d="M442.48,118.30 L443.36,118.57 L444.62,117.50 L446.05,117.83 L447.43,117.37 L448.54,117.61 L449.25,117.09 L449.71,117.62 L450.11,117.01 L450.62,117.74 L451.42,116.99 L452.65,116.38 L454.17,116.03 L455.80,115.63 L457.35,114.26 L458.63,113.50 L459.61,111.84 L460.41,110.32 L461.08,108.66 L461.67,106.83 L462.24,104.89 L462.77,103.23 L463.21,100.62 L463.61,98.64 L463.99,96.27 L464.40,93.91 L464.84,91.58 L465.27,88.80 L465.70,86.48 L466.13,84.39 L466.57,82.06 L466.99,80.02 L467.40,78.98 L467.81,77.72 L468.25,76.08 L468.73,74.44 L469.27,72.56 L469.85,70.78 L470.45,68.61 L471.05,66.42 L471.62,64.65 L472.17,63.25 L472.73,62.56 L473.27,62.76 L473.77,62.47 L474.21,62.36 L474.58,62.20 L474.89,62.42 L475.16,62.93 L475.41,63.53 L475.65,64.80 L475.87,65.67 L476.03,67.29 L476.20,68.74 L476.39,70.45 L476.66,72.14 L477.01,73.57 L477.41,74.35 L477.85,76.46 L478.33,77.83 L478.83,79.42 L479.36,80.90 L479.93,83.30 L480.52,85.23 L481.12,86.84 L481.71,89.40 L482.28,91.81 L482.83,94.11 L483.39,96.65 L483.97,98.65 L484.60,100.92 L485.27,102.35 L485.99,104.73 L486.73,106.00 L487.47,108.13 L488.20,109.79 L488.89,110.68 L489.54,111.67 L490.21,112.78 L490.95,114.21 L491.81,114.74 L492.78,115.93 L493.82,116.31 L494.96,116.59 L496.20,117.06 L497.58,116.90 L499.24,117.48 L501.18,117.37 L503.15,118.04 L504.92,118.43 L506.23,117.99 L507.00,118.54 L507.40,118.82 L507.55,118.19 L507.59,118.05 L507.67,118.30" stroke="#c8203f" stroke-width="1.15" fill="none" stroke-linejoin="round"/>
<path d="M442.48,118.30 C443.49,117.97 447.05,117.15 448.54,116.35 C450.03,115.54 450.22,115.38 451.42,113.46 C452.62,111.54 454.55,108.17 455.75,104.81 C456.95,101.44 457.67,97.60 458.63,93.27 C459.60,88.94 460.68,82.69 461.52,78.85 C462.36,75.00 462.84,72.48 463.68,70.19 C464.52,67.91 465.85,65.62 466.57,65.14 C467.29,64.66 467.53,66.47 468.01,67.31 C468.49,68.15 468.85,67.79 469.45,70.19 C470.05,72.60 470.89,77.88 471.62,81.73 C472.34,85.58 473.06,89.42 473.78,93.27 C474.50,97.12 475.10,101.44 475.94,104.81 C476.78,108.17 477.87,111.42 478.83,113.46 C479.79,115.50 480.51,116.26 481.71,117.07 C482.91,117.87 485.32,118.09 486.04,118.30 L486.04,118.0 L442.48,118.0 Z" stroke="none" stroke-width="0" fill="#a6d79a"/>
<g clip-path="url(#f05)">
<path d="M442.48,118.30 L443.36,117.91 L444.62,117.91 L446.05,117.34 L447.43,117.68 L448.54,116.97 L449.25,117.20 L449.71,117.57 L450.11,117.14 L450.62,117.59 L451.42,117.13 L452.65,116.56 L454.17,116.13 L455.80,115.45 L457.35,114.41 L458.63,113.91 L459.61,112.02 L460.41,110.95 L461.08,109.04 L461.67,106.38 L462.24,104.59 L462.77,102.66 L463.21,100.68 L463.61,97.73 L463.99,95.73 L464.40,93.15 L464.84,91.15 L465.27,88.84 L465.70,86.29 L466.13,83.50 L466.57,81.97 L466.99,79.96 L467.40,78.87 L467.81,77.20 L468.25,76.20 L468.73,74.67 L469.27,72.54 L469.85,70.29 L470.45,68.00 L471.05,65.76 L471.62,63.84 L472.17,63.58 L472.73,62.51 L473.27,61.79 L473.77,62.05 L474.21,62.04 L474.58,61.95 L474.89,62.91 L475.16,62.59 L475.41,63.94 L475.65,64.47 L475.87,65.26 L476.03,66.83 L476.20,68.47 L476.39,69.77 L476.66,71.87 L477.01,73.17 L477.41,74.81 L477.85,76.05 L478.33,77.48 L478.83,79.29 L479.36,81.05 L479.93,82.74 L480.52,84.70 L481.12,86.81 L481.71,89.22 L482.28,91.59 L482.83,93.89 L483.39,96.31 L483.97,97.91 L484.60,100.41 L485.27,102.07 L485.99,104.37 L486.73,106.09 L487.47,107.69 L488.20,109.46 L488.89,110.28 L489.54,112.03 L490.21,113.07 L490.95,113.77 L491.81,115.33 L492.78,115.18 L493.82,116.04 L494.96,116.47 L496.20,116.84 L497.58,117.50 L499.24,117.44 L501.18,118.03 L503.15,117.76 L504.92,118.13 L506.23,117.98 L507.00,118.50 L507.40,118.32 L507.55,118.62 L507.59,117.97 L507.67,118.30" stroke="#2f8f55" stroke-width="1.15" fill="none" stroke-linejoin="round"/>
<path d="M442.48,118.30 L443.36,118.57 L444.62,117.50 L446.05,117.83 L447.43,117.37 L448.54,117.61 L449.25,117.09 L449.71,117.62 L450.11,117.01 L450.62,117.74 L451.42,116.99 L452.65,116.38 L454.17,116.03 L455.80,115.63 L457.35,114.26 L458.63,113.50 L459.61,111.84 L460.41,110.32 L461.08,108.66 L461.67,106.83 L462.24,104.89 L462.77,103.23 L463.21,100.62 L463.61,98.64 L463.99,96.27 L464.40,93.91 L464.84,91.58 L465.27,88.80 L465.70,86.48 L466.13,84.39 L466.57,82.06 L466.99,80.02 L467.40,78.98 L467.81,77.72 L468.25,76.08 L468.73,74.44 L469.27,72.56 L469.85,70.78 L470.45,68.61 L471.05,66.42 L471.62,64.65 L472.17,63.25 L472.73,62.56 L473.27,62.76 L473.77,62.47 L474.21,62.36 L474.58,62.20 L474.89,62.42 L475.16,62.93 L475.41,63.53 L475.65,64.80 L475.87,65.67 L476.03,67.29 L476.20,68.74 L476.39,70.45 L476.66,72.14 L477.01,73.57 L477.41,74.35 L477.85,76.46 L478.33,77.83 L478.83,79.42 L479.36,80.90 L479.93,83.30 L480.52,85.23 L481.12,86.84 L481.71,89.40 L482.28,91.81 L482.83,94.11 L483.39,96.65 L483.97,98.65 L484.60,100.92 L485.27,102.35 L485.99,104.73 L486.73,106.00 L487.47,108.13 L488.20,109.79 L488.89,110.68 L489.54,111.67 L490.21,112.78 L490.95,114.21 L491.81,114.74 L492.78,115.93 L493.82,116.31 L494.96,116.59 L496.20,117.06 L497.58,116.90 L499.24,117.48 L501.18,117.37 L503.15,118.04 L504.92,118.43 L506.23,117.99 L507.00,118.54 L507.40,118.82 L507.55,118.19 L507.59,118.05 L507.67,118.30" stroke="#a4663e" stroke-width="1.0" fill="none" stroke-linejoin="round"/>
</g>
<path d="M442.48,118.30 L443.36,118.15 L444.62,118.05 L446.05,117.25 L447.43,117.02 L448.54,116.74 L449.30,115.94 L449.85,115.75 L450.32,115.28 L450.80,114.74 L451.42,113.04 L452.22,111.85 L453.12,111.00 L454.05,108.98 L454.95,106.60 L455.75,105.03 L456.42,102.43 L457.01,100.41 L457.55,98.18 L458.08,95.56 L458.63,92.94 L459.22,90.48 L459.82,87.56 L460.42,84.17 L460.99,81.55 L461.52,79.28 L461.99,76.29 L462.40,74.60 L462.80,72.75 L463.22,71.76 L463.68,70.11 L464.24,68.78 L464.85,67.34 L465.48,66.72 L466.07,65.87 L466.57,65.10 L466.95,65.40 L467.25,65.21 L467.50,65.90 L467.74,67.13 L468.01,67.06 L468.29,67.38 L468.55,67.57 L468.82,68.54 L469.12,69.34 L469.45,69.79 L469.84,71.93 L470.27,74.09 L470.72,76.55 L471.17,79.05 L471.62,81.63 L472.05,83.72 L472.48,86.73 L472.91,88.38 L473.35,90.99 L473.78,93.40 L474.20,95.76 L474.61,98.00 L475.03,100.42 L475.46,103.08 L475.94,104.51 L476.47,106.53 L477.04,108.54 L477.64,110.72 L478.24,112.03 L478.83,113.36 L479.38,114.16 L479.91,115.04 L480.45,116.17 L481.04,116.33 L481.71,117.03 L482.55,117.25 L483.55,117.62 L484.55,117.73 L485.43,118.54 L486.04,118.30" stroke="#34a049" stroke-width="1.15" fill="none" stroke-linejoin="round"/>
<rect x="442.5" y="54.0" width="65.2" height="64.5" fill="none" stroke="#1e1e1e" stroke-width="1.2"/>
<line x1="441.9" y1="118.5" x2="508.3" y2="118.5" stroke="#241a22" stroke-width="1.6"/>
<line x1="439.5" y1="55.5" x2="442.5" y2="55.5" stroke="#1e1e1e" stroke-width="1"/>
<line x1="439.5" y1="67.9" x2="442.5" y2="67.9" stroke="#1e1e1e" stroke-width="1"/>
<line x1="439.5" y1="80.3" x2="442.5" y2="80.3" stroke="#1e1e1e" stroke-width="1"/>
<line x1="439.5" y1="92.7" x2="442.5" y2="92.7" stroke="#1e1e1e" stroke-width="1"/>
<line x1="439.5" y1="105.1" x2="442.5" y2="105.1" stroke="#1e1e1e" stroke-width="1"/>
<line x1="439.5" y1="117.5" x2="442.5" y2="117.5" stroke="#1e1e1e" stroke-width="1"/>
<line x1="443.1" y1="118.5" x2="443.1" y2="122.0" stroke="#1e1e1e" stroke-width="0.9"/>
<line x1="443.9" y1="118.5" x2="443.9" y2="122.0" stroke="#1e1e1e" stroke-width="0.9"/>
<line x1="444.7" y1="118.5" x2="444.7" y2="122.0" stroke="#1e1e1e" stroke-width="0.9"/>
<line x1="448.9" y1="118.5" x2="448.9" y2="120.5" stroke="#1e1e1e" stroke-width="0.9"/>
<line x1="452.5" y1="118.5" x2="452.5" y2="121.5" stroke="#1e1e1e" stroke-width="0.9"/>
<line x1="472.5" y1="118.5" x2="472.5" y2="120.5" stroke="#1e1e1e" stroke-width="0.9"/>
<line x1="481.3" y1="118.5" x2="481.3" y2="121.5" stroke="#1e1e1e" stroke-width="0.9"/>
<line x1="500.7" y1="118.5" x2="500.7" y2="120.5" stroke="#1e1e1e" stroke-width="0.9"/>
<line x1="507.5" y1="118.5" x2="507.5" y2="121.5" stroke="#1e1e1e" stroke-width="0.9"/>
<text x="49.6" y="132.2" font-size="8.5" textLength="3.4" lengthAdjust="spacingAndGlyphs" fill="#262626" stroke="#262626" stroke-width="0.14">0</text>
<text x="53.5" y="132.2" font-size="8.5" textLength="8.2" lengthAdjust="spacingAndGlyphs" fill="#262626" stroke="#262626" stroke-width="0.14">10</text>
<text x="62.0" y="129.3" font-size="4.0" fill="#262626" stroke="#262626" stroke-width="0.1">2</text>
<text x="84.3" y="132.2" font-size="8.5" textLength="7.5" lengthAdjust="spacingAndGlyphs" fill="#262626" stroke="#262626" stroke-width="0.14">10</text>
<text x="92.0" y="129.3" font-size="4.0" fill="#262626" stroke="#262626" stroke-width="0.1">3</text>
<text x="109.8" y="132.2" font-size="8.5" textLength="8.2" lengthAdjust="spacingAndGlyphs" fill="#262626" stroke="#262626" stroke-width="0.14">10</text>
<text x="118.3" y="129.3" font-size="4.0" fill="#262626" stroke="#262626" stroke-width="0.1">4</text>
<text x="51.0" y="147.0" font-size="9.1" textLength="38.4" lengthAdjust="spacingAndGlyphs" fill="#262626" stroke="#262626" stroke-width="0.14">Plasma IgG</text>
<line x1="93" y1="144.5" x2="503" y2="144.5" stroke="#222" stroke-width="1.1"/>
<path d="M507.6,144.5 L499.8,140.9 L501.8,144.5 L499.8,148.1 Z" stroke="none" stroke-width="0" fill="#111"/>
<text x="30" y="171.5" font-size="7.8" font-weight="bold" textLength="70.8" lengthAdjust="spacingAndGlyphs" fill="#1a1a1a" stroke="#1a1a1a" stroke-width="0.25">F-to-M  cGVHD (+)</text>
<line x1="22" y1="197.3" x2="22" y2="228.9" stroke="#1a1a1a" stroke-width="1.15"/>
<path d="M22,192.70000000000002 L25.3,200.20000000000002 L22,198.60000000000002 L18.7,200.20000000000002 Z" stroke="none" stroke-width="0" fill="#111"/>
<text x="24.5" y="252.70000000000002" font-size="9.4" textLength="20.6" lengthAdjust="spacingAndGlyphs" transform="rotate(-90 24.5 252.70000000000002)" fill="#262626" stroke="#262626" stroke-width="0.14">Count</text>
<text x="43.8" y="195.1" font-size="7.4" text-anchor="end" textLength="12.5" lengthAdjust="spacingAndGlyphs" fill="#262626" stroke="#262626" stroke-width="0.14">100</text>
<text x="43.8" y="257.1" font-size="7.4" text-anchor="end" fill="#262626" stroke="#262626" stroke-width="0.14">0</text>
<text x="83.0" y="186.4" font-size="8.8" text-anchor="middle" textLength="31.8" lengthAdjust="spacingAndGlyphs" fill="#262626" stroke="#262626" stroke-width="0.1">Patient 7</text>
<clipPath id="f10"><path d="M50.48,255.80 C51.01,254.91 52.40,252.79 53.65,250.46 C54.90,248.13 56.66,245.17 57.98,241.81 C59.30,238.44 60.50,234.60 61.59,230.27 C62.67,225.94 63.63,219.69 64.47,215.85 C65.31,212.00 65.91,208.92 66.63,207.19 C67.36,205.46 67.96,204.74 68.80,205.46 C69.64,206.18 70.72,208.59 71.68,211.52 C72.64,214.45 73.68,219.21 74.57,223.06 C75.46,226.90 76.13,230.99 77.02,234.60 C77.91,238.20 78.87,241.81 79.90,244.69 C80.94,247.58 81.95,250.27 83.22,251.90 C84.50,253.54 86.35,253.85 87.55,254.50 C88.75,255.15 89.95,255.58 90.43,255.80 L90.43,255.5 L50.48,255.5 Z"/></clipPath>
<path d="M50.48,255.80 L50.87,255.27 L51.40,254.14 L52.05,253.82 L52.80,252.49 L53.65,250.43 L54.68,248.62 L55.88,245.91 L57.15,243.31 L58.37,240.47 L59.42,237.65 L60.31,233.53 L61.09,230.00 L61.79,224.81 L62.43,220.70 L63.03,216.92 L63.56,214.35 L64.02,211.08 L64.43,208.56 L64.81,206.12 L65.19,204.43 L65.58,202.57 L65.94,201.04 L66.29,200.21 L66.62,199.41 L66.92,198.91 L67.19,199.68 L67.41,200.14 L67.62,201.00 L67.84,202.21 L68.08,202.77 L68.33,203.70 L68.58,204.74 L68.85,205.83 L69.15,207.32 L69.52,208.19 L69.96,210.28 L70.47,212.19 L71.02,214.03 L71.58,215.94 L72.12,218.91 L72.63,220.98 L73.14,224.49 L73.65,227.23 L74.17,230.10 L74.71,232.87 L75.25,234.98 L75.78,237.02 L76.34,239.29 L76.93,241.03 L77.60,242.41 L78.35,244.41 L79.17,245.98 L80.03,247.66 L80.91,249.50 L81.78,250.29 L82.66,251.85 L83.57,252.54 L84.47,253.23 L85.33,253.22 L86.11,253.84 L86.82,254.27 L87.50,254.94 L88.11,255.78 L88.62,255.96 L88.99,255.80" stroke="#2b3f8f" stroke-width="1.15" fill="none" stroke-linejoin="round"/>
<path d="M50.48,255.80 L51.32,255.29 L52.52,255.54 L53.90,254.80 L55.29,254.65 L56.54,253.44 L57.64,251.56 L58.70,249.63 L59.72,247.13 L60.69,244.03 L61.59,241.83 L62.41,239.12 L63.17,235.99 L63.87,233.22 L64.54,230.16 L65.19,227.27 L65.83,225.06 L66.43,223.24 L67.01,222.30 L67.56,220.63 L68.08,218.83 L68.56,216.53 L68.99,214.14 L69.41,211.51 L69.82,209.83 L70.24,208.32 L70.68,208.68 L71.14,209.48 L71.59,210.71 L72.02,211.44 L72.40,211.87 L72.74,211.90 L73.03,211.58 L73.30,210.66 L73.57,210.32 L73.85,210.01 L74.12,210.72 L74.39,212.46 L74.66,213.27 L74.95,214.67 L75.29,215.93 L75.68,216.24 L76.10,215.92 L76.55,215.76 L77.01,215.52 L77.45,216.00 L77.88,216.93 L78.32,217.89 L78.75,218.95 L79.18,220.16 L79.62,222.02 L80.05,223.11 L80.48,224.98 L80.91,227.00 L81.35,228.66 L81.78,230.17 L82.21,232.24 L82.64,233.89 L83.08,235.94 L83.51,237.40 L83.94,238.95 L84.36,240.92 L84.77,242.04 L85.19,243.38 L85.63,245.25 L86.11,246.53 L86.60,246.99 L87.10,247.95 L87.65,249.62 L88.26,250.58 L88.99,251.08 L89.60,251.99 L90.06,253.45 L90.72,254.70 L91.93,254.92 L94.04,255.75 L97.65,256.24 L102.54,255.88 L107.78,255.95 L112.47,255.55 L115.67,255.80" stroke="#c8203f" stroke-width="1.15" fill="none" stroke-linejoin="round"/>
<path d="M50.48,255.80 C51.01,254.91 52.40,252.79 53.65,250.46 C54.90,248.13 56.66,245.17 57.98,241.81 C59.30,238.44 60.50,234.60 61.59,230.27 C62.67,225.94 63.63,219.69 64.47,215.85 C65.31,212.00 65.91,208.92 66.63,207.19 C67.36,205.46 67.96,204.74 68.80,205.46 C69.64,206.18 70.72,208.59 71.68,211.52 C72.64,214.45 73.68,219.21 74.57,223.06 C75.46,226.90 76.13,230.99 77.02,234.60 C77.91,238.20 78.87,241.81 79.90,244.69 C80.94,247.58 81.95,250.27 83.22,251.90 C84.50,253.54 86.35,253.85 87.55,254.50 C88.75,255.15 89.95,255.58 90.43,255.80 L90.43,255.5 L50.48,255.5 Z" stroke="none" stroke-width="0" fill="#a6d79a"/>
<g clip-path="url(#f10)">
<path d="M50.48,255.80 L50.87,255.27 L51.40,254.14 L52.05,253.82 L52.80,252.49 L53.65,250.43 L54.68,248.62 L55.88,245.91 L57.15,243.31 L58.37,240.47 L59.42,237.65 L60.31,233.53 L61.09,230.00 L61.79,224.81 L62.43,220.70 L63.03,216.92 L63.56,214.35 L64.02,211.08 L64.43,208.56 L64.81,206.12 L65.19,204.43 L65.58,202.57 L65.94,201.04 L66.29,200.21 L66.62,199.41 L66.92,198.91 L67.19,199.68 L67.41,200.14 L67.62,201.00 L67.84,202.21 L68.08,202.77 L68.33,203.70 L68.58,204.74 L68.85,205.83 L69.15,207.32 L69.52,208.19 L69.96,210.28 L70.47,212.19 L71.02,214.03 L71.58,215.94 L72.12,218.91 L72.63,220.98 L73.14,224.49 L73.65,227.23 L74.17,230.10 L74.71,232.87 L75.25,234.98 L75.78,237.02 L76.34,239.29 L76.93,241.03 L77.60,242.41 L78.35,244.41 L79.17,245.98 L80.03,247.66 L80.91,249.50 L81.78,250.29 L82.66,251.85 L83.57,252.54 L84.47,253.23 L85.33,253.22 L86.11,253.84 L86.82,254.27 L87.50,254.94 L88.11,255.78 L88.62,255.96 L88.99,255.80" stroke="#2f8f55" stroke-width="1.15" fill="none" stroke-linejoin="round"/>
<path d="M50.48,255.80 L51.32,255.29 L52.52,255.54 L53.90,254.80 L55.29,254.65 L56.54,253.44 L57.64,251.56 L58.70,249.63 L59.72,247.13 L60.69,244.03 L61.59,241.83 L62.41,239.12 L63.17,235.99 L63.87,233.22 L64.54,230.16 L65.19,227.27 L65.83,225.06 L66.43,223.24 L67.01,222.30 L67.56,220.63 L68.08,218.83 L68.56,216.53 L68.99,214.14 L69.41,211.51 L69.82,209.83 L70.24,208.32 L70.68,208.68 L71.14,209.48 L71.59,210.71 L72.02,211.44 L72.40,211.87 L72.74,211.90 L73.03,211.58 L73.30,210.66 L73.57,210.32 L73.85,210.01 L74.12,210.72 L74.39,212.46 L74.66,213.27 L74.95,214.67 L75.29,215.93 L75.68,216.24 L76.10,215.92 L76.55,215.76 L77.01,215.52 L77.45,216.00 L77.88,216.93 L78.32,217.89 L78.75,218.95 L79.18,220.16 L79.62,222.02 L80.05,223.11 L80.48,224.98 L80.91,227.00 L81.35,228.66 L81.78,230.17 L82.21,232.24 L82.64,233.89 L83.08,235.94 L83.51,237.40 L83.94,238.95 L84.36,240.92 L84.77,242.04 L85.19,243.38 L85.63,245.25 L86.11,246.53 L86.60,246.99 L87.10,247.95 L87.65,249.62 L88.26,250.58 L88.99,251.08 L89.60,251.99 L90.06,253.45 L90.72,254.70 L91.93,254.92 L94.04,255.75 L97.65,256.24 L102.54,255.88 L107.78,255.95 L112.47,255.55 L115.67,255.80" stroke="#a4663e" stroke-width="1.0" fill="none" stroke-linejoin="round"/>
</g>
<path d="M50.48,255.80 L50.89,255.56 L51.47,254.17 L52.15,253.29 L52.89,252.04 L53.65,250.20 L54.46,248.61 L55.34,247.47 L56.25,245.30 L57.14,243.67 L57.98,242.16 L58.76,240.07 L59.51,237.20 L60.23,234.85 L60.92,232.56 L61.59,230.56 L62.22,227.05 L62.83,224.18 L63.40,220.98 L63.95,218.07 L64.47,215.87 L64.95,213.35 L65.39,211.56 L65.80,210.09 L66.21,208.59 L66.63,207.12 L67.06,206.54 L67.47,205.69 L67.88,205.56 L68.32,204.97 L68.80,205.34 L69.33,206.16 L69.90,207.46 L70.49,208.43 L71.09,209.81 L71.68,211.30 L72.27,213.28 L72.86,215.48 L73.44,218.62 L74.02,221.01 L74.57,223.41 L75.08,225.41 L75.56,227.93 L76.03,229.90 L76.51,232.36 L77.02,234.28 L77.56,236.68 L78.12,238.65 L78.70,240.57 L79.29,243.26 L79.90,244.33 L80.52,246.67 L81.15,248.19 L81.80,249.12 L82.49,250.79 L83.22,252.35 L84.05,253.18 L84.95,253.39 L85.87,254.02 L86.76,254.33 L87.55,254.31 L88.26,254.91 L88.94,255.26 L89.56,255.34 L90.06,255.93 L90.43,255.80" stroke="#34a049" stroke-width="1.15" fill="none" stroke-linejoin="round"/>
<rect x="50.4" y="191.5" width="65.2" height="64.5" fill="none" stroke="#1e1e1e" stroke-width="1.2"/>
<line x1="49.8" y1="256.0" x2="116.19999999999999" y2="256.0" stroke="#241a22" stroke-width="1.6"/>
<line x1="47.4" y1="193.0" x2="50.4" y2="193.0" stroke="#1e1e1e" stroke-width="1"/>
<line x1="47.4" y1="205.4" x2="50.4" y2="205.4" stroke="#1e1e1e" stroke-width="1"/>
<line x1="47.4" y1="217.8" x2="50.4" y2="217.8" stroke="#1e1e1e" stroke-width="1"/>
<line x1="47.4" y1="230.2" x2="50.4" y2="230.2" stroke="#1e1e1e" stroke-width="1"/>
<line x1="47.4" y1="242.6" x2="50.4" y2="242.6" stroke="#1e1e1e" stroke-width="1"/>
<line x1="47.4" y1="255.0" x2="50.4" y2="255.0" stroke="#1e1e1e" stroke-width="1"/>
<line x1="51.0" y1="256.0" x2="51.0" y2="259.5" stroke="#1e1e1e" stroke-width="0.9"/>
<line x1="51.8" y1="256.0" x2="51.8" y2="259.5" stroke="#1e1e1e" stroke-width="0.9"/>
<line x1="52.6" y1="256.0" x2="52.6" y2="259.5" stroke="#1e1e1e" stroke-width="0.9"/>
<line x1="56.8" y1="256.0" x2="56.8" y2="258.0" stroke="#1e1e1e" stroke-width="0.9"/>
<line x1="60.4" y1="256.0" x2="60.4" y2="259.0" stroke="#1e1e1e" stroke-width="0.9"/>
<line x1="80.4" y1="256.0" x2="80.4" y2="258.0" stroke="#1e1e1e" stroke-width="0.9"/>
<line x1="89.19999999999999" y1="256.0" x2="89.19999999999999" y2="259.0" stroke="#1e1e1e" stroke-width="0.9"/>
<line x1="108.6" y1="256.0" x2="108.6" y2="258.0" stroke="#1e1e1e" stroke-width="0.9"/>
<line x1="115.4" y1="256.0" x2="115.4" y2="259.0" stroke="#1e1e1e" stroke-width="0.9"/>
<text x="161.4" y="186.4" font-size="8.8" text-anchor="middle" textLength="31.8" lengthAdjust="spacingAndGlyphs" fill="#262626" stroke="#262626" stroke-width="0.1">Patient 8</text>
<clipPath id="f11"><path d="M128.33,255.80 C128.45,255.39 128.33,255.68 129.05,253.35 C129.77,251.01 131.57,246.38 132.65,241.81 C133.74,237.24 134.58,231.47 135.54,225.94 C136.50,220.41 137.51,213.44 138.42,208.63 C139.34,203.83 140.18,197.10 141.02,197.10 C141.86,197.10 142.58,205.51 143.47,208.63 C144.36,211.76 145.39,212.72 146.36,215.85 C147.32,218.97 148.16,223.78 149.24,227.38 C150.32,230.99 151.52,234.12 152.85,237.48 C154.17,240.85 155.73,245.17 157.17,247.58 C158.62,249.98 159.82,250.53 161.50,251.90 C163.18,253.27 166.31,255.15 167.27,255.80 L167.27,255.5 L128.33,255.5 Z"/></clipPath>
<path d="M128.33,255.80 L128.42,255.91 L128.53,255.17 L128.70,255.50 L128.95,254.45 L129.34,253.25 L129.90,251.79 L130.63,249.30 L131.43,246.89 L132.23,244.47 L132.94,241.56 L133.57,239.09 L134.15,235.77 L134.71,232.50 L135.26,229.08 L135.83,225.69 L136.41,222.65 L136.99,219.14 L137.58,214.97 L138.15,211.93 L138.71,208.47 L139.25,206.09 L139.78,202.94 L140.29,200.94 L140.80,199.16 L141.31,198.87 L141.80,199.32 L142.28,200.33 L142.75,202.52 L143.24,205.17 L143.76,206.94 L144.31,208.53 L144.88,210.65 L145.47,212.12 L146.06,212.88 L146.64,214.70 L147.21,217.34 L147.76,219.95 L148.32,222.33 L148.91,224.56 L149.53,226.88 L150.19,228.76 L150.88,230.80 L151.61,233.11 L152.36,234.41 L153.13,236.92 L153.95,239.06 L154.81,240.74 L155.70,243.44 L156.58,244.88 L157.46,247.28 L158.30,248.40 L159.12,249.13 L159.95,250.08 L160.83,251.21 L161.79,251.50 L162.94,252.29 L164.27,253.70 L165.60,254.82 L166.75,254.93 L167.56,255.80" stroke="#2b3f8f" stroke-width="1.15" fill="none" stroke-linejoin="round"/>
<path d="M128.33,255.80 L128.49,255.59 L128.70,255.58 L128.97,255.21 L129.32,254.64 L129.77,253.71 L130.36,251.92 L131.09,249.29 L131.88,246.92 L132.67,244.50 L133.38,241.71 L134.00,239.35 L134.58,236.05 L135.14,232.57 L135.69,229.14 L136.26,225.70 L136.85,222.56 L137.45,219.19 L138.04,214.86 L138.61,211.66 L139.14,208.49 L139.61,205.83 L140.03,202.65 L140.43,199.99 L140.84,198.74 L141.31,197.64 L141.84,198.61 L142.41,200.72 L143.00,202.91 L143.60,205.69 L144.19,207.46 L144.77,208.03 L145.35,209.20 L145.92,210.38 L146.50,210.90 L147.08,211.07 L147.67,212.17 L148.27,212.09 L148.86,211.95 L149.43,212.28 L149.96,212.67 L150.44,214.30 L150.88,215.65 L151.29,218.06 L151.70,220.26 L152.12,221.36 L152.55,222.94 L152.96,224.67 L153.37,226.35 L153.81,227.11 L154.29,228.73 L154.82,230.39 L155.39,231.48 L155.98,232.87 L156.58,234.91 L157.17,236.15 L157.75,237.36 L158.33,238.49 L158.90,239.21 L159.48,240.66 L160.06,241.80 L160.63,243.00 L161.21,243.88 L161.79,244.98 L162.37,246.53 L162.94,247.75 L163.50,248.69 L164.03,249.83 L164.57,250.16 L165.16,250.99 L165.83,251.75 L166.30,252.78 L166.54,253.83 L166.98,254.87 L168.05,254.91 L170.15,255.87 L173.98,256.29 L179.25,256.31 L184.94,255.92 L190.04,255.48 L193.52,255.80" stroke="#c8203f" stroke-width="1.15" fill="none" stroke-linejoin="round"/>
<path d="M128.33,255.80 C128.45,255.39 128.33,255.68 129.05,253.35 C129.77,251.01 131.57,246.38 132.65,241.81 C133.74,237.24 134.58,231.47 135.54,225.94 C136.50,220.41 137.51,213.44 138.42,208.63 C139.34,203.83 140.18,197.10 141.02,197.10 C141.86,197.10 142.58,205.51 143.47,208.63 C144.36,211.76 145.39,212.72 146.36,215.85 C147.32,218.97 148.16,223.78 149.24,227.38 C150.32,230.99 151.52,234.12 152.85,237.48 C154.17,240.85 155.73,245.17 157.17,247.58 C158.62,249.98 159.82,250.53 161.50,251.90 C163.18,253.27 166.31,255.15 167.27,255.80 L167.27,255.5 L128.33,255.5 Z" stroke="none" stroke-width="0" fill="#a6d79a"/>
<g clip-path="url(#f11)">
<path d="M128.33,255.80 L128.42,255.91 L128.53,255.17 L128.70,255.50 L128.95,254.45 L129.34,253.25 L129.90,251.79 L130.63,249.30 L131.43,246.89 L132.23,244.47 L132.94,241.56 L133.57,239.09 L134.15,235.77 L134.71,232.50 L135.26,229.08 L135.83,225.69 L136.41,222.65 L136.99,219.14 L137.58,214.97 L138.15,211.93 L138.71,208.47 L139.25,206.09 L139.78,202.94 L140.29,200.94 L140.80,199.16 L141.31,198.87 L141.80,199.32 L142.28,200.33 L142.75,202.52 L143.24,205.17 L143.76,206.94 L144.31,208.53 L144.88,210.65 L145.47,212.12 L146.06,212.88 L146.64,214.70 L147.21,217.34 L147.76,219.95 L148.32,222.33 L148.91,224.56 L149.53,226.88 L150.19,228.76 L150.88,230.80 L151.61,233.11 L152.36,234.41 L153.13,236.92 L153.95,239.06 L154.81,240.74 L155.70,243.44 L156.58,244.88 L157.46,247.28 L158.30,248.40 L159.12,249.13 L159.95,250.08 L160.83,251.21 L161.79,251.50 L162.94,252.29 L164.27,253.70 L165.60,254.82 L166.75,254.93 L167.56,255.80" stroke="#2f8f55" stroke-width="1.15" fill="none" stroke-linejoin="round"/>
<path d="M128.33,255.80 L128.49,255.59 L128.70,255.58 L128.97,255.21 L129.32,254.64 L129.77,253.71 L130.36,251.92 L131.09,249.29 L131.88,246.92 L132.67,244.50 L133.38,241.71 L134.00,239.35 L134.58,236.05 L135.14,232.57 L135.69,229.14 L136.26,225.70 L136.85,222.56 L137.45,219.19 L138.04,214.86 L138.61,211.66 L139.14,208.49 L139.61,205.83 L140.03,202.65 L140.43,199.99 L140.84,198.74 L141.31,197.64 L141.84,198.61 L142.41,200.72 L143.00,202.91 L143.60,205.69 L144.19,207.46 L144.77,208.03 L145.35,209.20 L145.92,210.38 L146.50,210.90 L147.08,211.07 L147.67,212.17 L148.27,212.09 L148.86,211.95 L149.43,212.28 L149.96,212.67 L150.44,214.30 L150.88,215.65 L151.29,218.06 L151.70,220.26 L152.12,221.36 L152.55,222.94 L152.96,224.67 L153.37,226.35 L153.81,227.11 L154.29,228.73 L154.82,230.39 L155.39,231.48 L155.98,232.87 L156.58,234.91 L157.17,236.15 L157.75,237.36 L158.33,238.49 L158.90,239.21 L159.48,240.66 L160.06,241.80 L160.63,243.00 L161.21,243.88 L161.79,244.98 L162.37,246.53 L162.94,247.75 L163.50,248.69 L164.03,249.83 L164.57,250.16 L165.16,250.99 L165.83,251.75 L166.30,252.78 L166.54,253.83 L166.98,254.87 L168.05,254.91 L170.15,255.87 L173.98,256.29 L179.25,256.31 L184.94,255.92 L190.04,255.48 L193.52,255.80" stroke="#a4663e" stroke-width="1.0" fill="none" stroke-linejoin="round"/>
</g>
<path d="M128.33,255.80 L128.38,255.19 L128.42,255.76 L128.52,255.30 L128.71,254.02 L129.05,253.39 L129.60,251.45 L130.32,249.94 L131.12,247.49 L131.93,244.36 L132.65,241.90 L133.28,238.93 L133.86,235.65 L134.42,232.54 L134.97,229.18 L135.54,225.91 L136.12,222.89 L136.71,219.05 L137.29,214.80 L137.86,211.62 L138.42,209.06 L138.96,205.82 L139.49,202.59 L140.01,199.90 L140.51,198.00 L141.02,196.79 L141.51,197.91 L141.99,200.06 L142.47,202.95 L142.96,206.40 L143.47,208.22 L144.02,210.00 L144.59,211.81 L145.18,213.21 L145.77,214.02 L146.36,216.16 L146.92,218.20 L147.47,219.91 L148.03,223.04 L148.62,224.80 L149.24,227.36 L149.90,229.12 L150.60,231.16 L151.32,233.66 L152.07,235.79 L152.85,237.13 L153.67,239.44 L154.52,241.90 L155.41,244.04 L156.30,245.60 L157.17,247.75 L158.02,248.46 L158.83,250.13 L159.67,250.63 L160.54,251.30 L161.50,252.28 L162.65,252.54 L163.98,253.41 L165.31,254.66 L166.46,255.63 L167.27,255.80" stroke="#34a049" stroke-width="1.15" fill="none" stroke-linejoin="round"/>
<rect x="128.8" y="191.5" width="65.2" height="64.5" fill="none" stroke="#1e1e1e" stroke-width="1.2"/>
<line x1="128.20000000000002" y1="256.0" x2="194.6" y2="256.0" stroke="#241a22" stroke-width="1.6"/>
<line x1="125.80000000000001" y1="193.0" x2="128.8" y2="193.0" stroke="#1e1e1e" stroke-width="1"/>
<line x1="125.80000000000001" y1="205.4" x2="128.8" y2="205.4" stroke="#1e1e1e" stroke-width="1"/>
<line x1="125.80000000000001" y1="217.8" x2="128.8" y2="217.8" stroke="#1e1e1e" stroke-width="1"/>
<line x1="125.80000000000001" y1="230.2" x2="128.8" y2="230.2" stroke="#1e1e1e" stroke-width="1"/>
<line x1="125.80000000000001" y1="242.6" x2="128.8" y2="242.6" stroke="#1e1e1e" stroke-width="1"/>
<line x1="125.80000000000001" y1="255.0" x2="128.8" y2="255.0" stroke="#1e1e1e" stroke-width="1"/>
<line x1="129.4" y1="256.0" x2="129.4" y2="259.5" stroke="#1e1e1e" stroke-width="0.9"/>
<line x1="130.20000000000002" y1="256.0" x2="130.20000000000002" y2="259.5" stroke="#1e1e1e" stroke-width="0.9"/>
<line x1="131.0" y1="256.0" x2="131.0" y2="259.5" stroke="#1e1e1e" stroke-width="0.9"/>
<line x1="135.20000000000002" y1="256.0" x2="135.20000000000002" y2="258.0" stroke="#1e1e1e" stroke-width="0.9"/>
<line x1="138.8" y1="256.0" x2="138.8" y2="259.0" stroke="#1e1e1e" stroke-width="0.9"/>
<line x1="158.8" y1="256.0" x2="158.8" y2="258.0" stroke="#1e1e1e" stroke-width="0.9"/>
<line x1="167.60000000000002" y1="256.0" x2="167.60000000000002" y2="259.0" stroke="#1e1e1e" stroke-width="0.9"/>
<line x1="187.0" y1="256.0" x2="187.0" y2="258.0" stroke="#1e1e1e" stroke-width="0.9"/>
<line x1="193.8" y1="256.0" x2="193.8" y2="259.0" stroke="#1e1e1e" stroke-width="0.9"/>
<text x="239.79999999999998" y="186.4" font-size="8.8" text-anchor="middle" textLength="31.8" lengthAdjust="spacingAndGlyphs" fill="#262626" stroke="#262626" stroke-width="0.1">Patient 9</text>
<clipPath id="f12"><path d="M207.48,241.81 C207.77,240.37 208.56,236.52 209.21,233.15 C209.86,229.79 210.65,225.70 211.38,221.62 C212.10,217.53 212.82,211.88 213.54,208.63 C214.26,205.39 215.10,202.87 215.70,202.14 C216.30,201.42 216.66,202.99 217.14,204.31 C217.62,205.63 218.11,206.95 218.59,210.08 C219.07,213.20 219.43,218.49 220.03,223.06 C220.63,227.62 221.35,233.39 222.19,237.48 C223.03,241.57 223.88,244.93 225.08,247.58 C226.28,250.22 228.20,251.98 229.40,253.35 C230.61,254.72 231.81,255.39 232.29,255.80 L232.29,255.5 L207.48,255.5 Z"/></clipPath>
<path d="M207.48,244.69 L207.82,242.77 L208.30,241.05 L208.86,238.33 L209.42,236.11 L209.93,233.26 L210.38,230.67 L210.82,228.46 L211.24,225.24 L211.67,223.11 L212.10,220.10 L212.53,217.63 L212.96,215.09 L213.39,212.19 L213.83,209.47 L214.26,207.47 L214.70,204.87 L215.15,203.51 L215.59,202.48 L216.02,201.39 L216.42,200.66 L216.79,200.69 L217.14,201.65 L217.47,202.96 L217.81,204.07 L218.15,206.14 L218.52,207.12 L218.88,208.30 L219.25,209.38 L219.63,211.05 L220.03,212.88 L220.44,214.70 L220.87,217.19 L221.31,219.66 L221.75,222.43 L222.19,224.87 L222.61,226.17 L223.02,228.32 L223.44,230.95 L223.88,232.16 L224.36,234.38 L224.88,236.74 L225.42,238.87 L226.00,240.71 L226.61,243.18 L227.24,244.88 L227.90,245.71 L228.60,247.61 L229.32,248.41 L230.07,249.51 L230.85,250.53 L231.67,251.49 L232.52,252.42 L233.41,252.58 L234.30,253.22 L235.17,253.80 L236.11,254.28 L237.11,255.24 L238.08,255.65 L238.91,255.47 L239.50,255.80" stroke="#2b3f8f" stroke-width="1.15" fill="none" stroke-linejoin="round"/>
<path d="M207.48,254.07 L208.36,253.03 L209.62,251.66 L211.05,249.67 L212.43,248.37 L213.54,246.34 L214.32,244.58 L214.92,242.49 L215.42,240.90 L215.90,238.67 L216.42,236.12 L217.02,232.76 L217.65,229.72 L218.26,226.70 L218.82,223.03 L219.31,220.06 L219.68,218.08 L219.95,215.84 L220.19,214.43 L220.44,213.34 L220.75,211.49 L221.14,209.63 L221.56,208.27 L222.01,206.07 L222.47,204.52 L222.91,203.21 L223.35,203.36 L223.78,203.48 L224.21,203.81 L224.64,204.98 L225.08,205.14 L225.52,205.27 L225.98,205.69 L226.43,205.44 L226.85,206.29 L227.24,206.64 L227.59,207.33 L227.90,208.63 L228.19,210.49 L228.45,211.63 L228.68,212.52 L228.85,214.72 L228.95,215.86 L229.05,217.28 L229.18,218.89 L229.40,219.91 L229.76,221.35 L230.20,222.15 L230.68,222.77 L231.16,223.57 L231.57,224.35 L231.89,225.71 L232.16,226.93 L232.42,227.38 L232.69,229.12 L233.01,230.54 L233.38,232.06 L233.79,233.30 L234.22,234.93 L234.68,236.14 L235.17,237.79 L235.70,239.16 L236.27,240.21 L236.87,242.11 L237.47,243.45 L238.06,244.72 L238.61,245.74 L239.14,247.61 L239.68,248.66 L240.27,249.73 L240.94,250.23 L241.55,251.05 L242.08,251.87 L242.74,252.76 L243.73,253.36 L245.27,254.29 L247.53,254.47 L250.38,255.42 L253.54,254.92 L256.74,255.50 L259.69,256.14 L262.59,255.91 L265.61,256.08 L268.48,256.20 L270.93,255.95 L272.67,255.80" stroke="#c8203f" stroke-width="1.15" fill="none" stroke-linejoin="round"/>
<path d="M207.48,241.81 C207.77,240.37 208.56,236.52 209.21,233.15 C209.86,229.79 210.65,225.70 211.38,221.62 C212.10,217.53 212.82,211.88 213.54,208.63 C214.26,205.39 215.10,202.87 215.70,202.14 C216.30,201.42 216.66,202.99 217.14,204.31 C217.62,205.63 218.11,206.95 218.59,210.08 C219.07,213.20 219.43,218.49 220.03,223.06 C220.63,227.62 221.35,233.39 222.19,237.48 C223.03,241.57 223.88,244.93 225.08,247.58 C226.28,250.22 228.20,251.98 229.40,253.35 C230.61,254.72 231.81,255.39 232.29,255.80 L232.29,255.5 L207.48,255.5 Z" stroke="none" stroke-width="0" fill="#a6d79a"/>
<g clip-path="url(#f12)">
<path d="M207.48,244.69 L207.82,242.77 L208.30,241.05 L208.86,238.33 L209.42,236.11 L209.93,233.26 L210.38,230.67 L210.82,228.46 L211.24,225.24 L211.67,223.11 L212.10,220.10 L212.53,217.63 L212.96,215.09 L213.39,212.19 L213.83,209.47 L214.26,207.47 L214.70,204.87 L215.15,203.51 L215.59,202.48 L216.02,201.39 L216.42,200.66 L216.79,200.69 L217.14,201.65 L217.47,202.96 L217.81,204.07 L218.15,206.14 L218.52,207.12 L218.88,208.30 L219.25,209.38 L219.63,211.05 L220.03,212.88 L220.44,214.70 L220.87,217.19 L221.31,219.66 L221.75,222.43 L222.19,224.87 L222.61,226.17 L223.02,228.32 L223.44,230.95 L223.88,232.16 L224.36,234.38 L224.88,236.74 L225.42,238.87 L226.00,240.71 L226.61,243.18 L227.24,244.88 L227.90,245.71 L228.60,247.61 L229.32,248.41 L230.07,249.51 L230.85,250.53 L231.67,251.49 L232.52,252.42 L233.41,252.58 L234.30,253.22 L235.17,253.80 L236.11,254.28 L237.11,255.24 L238.08,255.65 L238.91,255.47 L239.50,255.80" stroke="#2f8f55" stroke-width="1.15" fill="none" stroke-linejoin="round"/>
<path d="M207.48,254.07 L208.36,253.03 L209.62,251.66 L211.05,249.67 L212.43,248.37 L213.54,246.34 L214.32,244.58 L214.92,242.49 L215.42,240.90 L215.90,238.67 L216.42,236.12 L217.02,232.76 L217.65,229.72 L218.26,226.70 L218.82,223.03 L219.31,220.06 L219.68,218.08 L219.95,215.84 L220.19,214.43 L220.44,213.34 L220.75,211.49 L221.14,209.63 L221.56,208.27 L222.01,206.07 L222.47,204.52 L222.91,203.21 L223.35,203.36 L223.78,203.48 L224.21,203.81 L224.64,204.98 L225.08,205.14 L225.52,205.27 L225.98,205.69 L226.43,205.44 L226.85,206.29 L227.24,206.64 L227.59,207.33 L227.90,208.63 L228.19,210.49 L228.45,211.63 L228.68,212.52 L228.85,214.72 L228.95,215.86 L229.05,217.28 L229.18,218.89 L229.40,219.91 L229.76,221.35 L230.20,222.15 L230.68,222.77 L231.16,223.57 L231.57,224.35 L231.89,225.71 L232.16,226.93 L232.42,227.38 L232.69,229.12 L233.01,230.54 L233.38,232.06 L233.79,233.30 L234.22,234.93 L234.68,236.14 L235.17,237.79 L235.70,239.16 L236.27,240.21 L236.87,242.11 L237.47,243.45 L238.06,244.72 L238.61,245.74 L239.14,247.61 L239.68,248.66 L240.27,249.73 L240.94,250.23 L241.55,251.05 L242.08,251.87 L242.74,252.76 L243.73,253.36 L245.27,254.29 L247.53,254.47 L250.38,255.42 L253.54,254.92 L256.74,255.50 L259.69,256.14 L262.59,255.91 L265.61,256.08 L268.48,256.20 L270.93,255.95 L272.67,255.80" stroke="#a4663e" stroke-width="1.0" fill="none" stroke-linejoin="round"/>
</g>
<path d="M207.48,241.81 L207.71,240.27 L208.03,238.74 L208.41,237.15 L208.81,234.85 L209.21,233.51 L209.62,230.64 L210.05,228.85 L210.49,226.32 L210.94,224.38 L211.38,221.31 L211.81,218.86 L212.24,216.07 L212.67,213.20 L213.11,210.39 L213.54,208.58 L213.98,206.41 L214.44,205.24 L214.89,203.42 L215.32,202.62 L215.70,202.10 L216.04,202.33 L216.33,201.85 L216.60,202.45 L216.87,203.77 L217.14,203.88 L217.43,205.49 L217.72,206.08 L218.01,206.87 L218.30,208.71 L218.59,210.32 L218.86,212.05 L219.13,214.95 L219.40,217.15 L219.69,220.35 L220.03,223.08 L220.40,226.20 L220.81,228.76 L221.24,231.86 L221.70,235.09 L222.19,237.49 L222.70,240.01 L223.22,242.16 L223.78,244.21 L224.40,246.25 L225.08,247.56 L225.87,249.21 L226.77,250.24 L227.71,251.06 L228.61,252.70 L229.40,253.06 L230.12,254.38 L230.80,255.06 L231.41,255.30 L231.92,255.22 L232.29,255.80" stroke="#34a049" stroke-width="1.15" fill="none" stroke-linejoin="round"/>
<rect x="207.2" y="191.5" width="65.2" height="64.5" fill="none" stroke="#1e1e1e" stroke-width="1.2"/>
<line x1="206.6" y1="256.0" x2="273.0" y2="256.0" stroke="#241a22" stroke-width="1.6"/>
<line x1="204.2" y1="193.0" x2="207.2" y2="193.0" stroke="#1e1e1e" stroke-width="1"/>
<line x1="204.2" y1="205.4" x2="207.2" y2="205.4" stroke="#1e1e1e" stroke-width="1"/>
<line x1="204.2" y1="217.8" x2="207.2" y2="217.8" stroke="#1e1e1e" stroke-width="1"/>
<line x1="204.2" y1="230.2" x2="207.2" y2="230.2" stroke="#1e1e1e" stroke-width="1"/>
<line x1="204.2" y1="242.6" x2="207.2" y2="242.6" stroke="#1e1e1e" stroke-width="1"/>
<line x1="204.2" y1="255.0" x2="207.2" y2="255.0" stroke="#1e1e1e" stroke-width="1"/>
<line x1="207.79999999999998" y1="256.0" x2="207.79999999999998" y2="259.5" stroke="#1e1e1e" stroke-width="0.9"/>
<line x1="208.6" y1="256.0" x2="208.6" y2="259.5" stroke="#1e1e1e" stroke-width="0.9"/>
<line x1="209.39999999999998" y1="256.0" x2="209.39999999999998" y2="259.5" stroke="#1e1e1e" stroke-width="0.9"/>
<line x1="213.6" y1="256.0" x2="213.6" y2="258.0" stroke="#1e1e1e" stroke-width="0.9"/>
<line x1="217.2" y1="256.0" x2="217.2" y2="259.0" stroke="#1e1e1e" stroke-width="0.9"/>
<line x1="237.2" y1="256.0" x2="237.2" y2="258.0" stroke="#1e1e1e" stroke-width="0.9"/>
<line x1="246.0" y1="256.0" x2="246.0" y2="259.0" stroke="#1e1e1e" stroke-width="0.9"/>
<line x1="265.4" y1="256.0" x2="265.4" y2="258.0" stroke="#1e1e1e" stroke-width="0.9"/>
<line x1="272.2" y1="256.0" x2="272.2" y2="259.0" stroke="#1e1e1e" stroke-width="0.9"/>
<text x="318.29999999999995" y="186.4" font-size="8.8" text-anchor="middle" textLength="37.5" lengthAdjust="spacingAndGlyphs" fill="#262626" stroke="#262626" stroke-width="0.1">Patient 10</text>
<clipPath id="f13"><path d="M285.48,255.80 C285.65,255.15 285.48,254.24 286.49,251.90 C287.50,249.57 290.10,245.41 291.54,241.81 C292.98,238.20 294.06,234.60 295.14,230.27 C296.23,225.94 297.19,219.93 298.03,215.85 C298.87,211.76 299.59,208.03 300.19,205.75 C300.79,203.47 301.15,202.14 301.63,202.14 C302.12,202.14 302.60,204.67 303.08,205.75 C303.56,206.83 303.80,206.47 304.52,208.63 C305.24,210.80 306.44,215.12 307.40,218.73 C308.37,222.34 309.33,226.66 310.29,230.27 C311.25,233.88 312.21,237.24 313.17,240.37 C314.13,243.49 314.86,246.86 316.06,249.02 C317.26,251.18 318.94,252.22 320.38,253.35 C321.83,254.48 323.99,255.39 324.71,255.80 L324.71,255.5 L285.48,255.5 Z"/></clipPath>
<path d="M285.48,255.80 L285.66,255.11 L285.89,254.83 L286.20,253.33 L286.63,252.38 L287.21,251.08 L288.03,249.78 L289.06,247.20 L290.19,245.13 L291.29,242.31 L292.26,240.07 L293.08,238.31 L293.84,235.92 L294.54,233.78 L295.21,231.19 L295.87,228.82 L296.50,225.98 L297.11,223.28 L297.68,220.39 L298.23,217.89 L298.75,215.80 L299.24,213.83 L299.70,212.01 L300.13,210.16 L300.54,208.77 L300.91,207.41 L301.25,205.73 L301.54,205.76 L301.81,204.87 L302.08,204.46 L302.36,203.94 L302.63,203.91 L302.90,203.91 L303.17,204.18 L303.46,205.28 L303.80,205.64 L304.17,207.03 L304.58,208.52 L305.01,209.70 L305.47,210.98 L305.96,212.65 L306.49,215.19 L307.06,216.72 L307.66,218.63 L308.26,221.31 L308.85,222.76 L309.42,225.64 L310.00,227.20 L310.58,229.96 L311.15,232.21 L311.73,235.02 L312.30,236.71 L312.85,238.94 L313.41,241.21 L313.99,243.00 L314.62,244.99 L315.28,246.68 L315.97,247.62 L316.69,249.16 L317.44,250.72 L318.22,251.81 L319.05,253.03 L319.93,253.01 L320.83,254.21 L321.72,254.42 L322.55,254.64 L323.37,254.65 L324.22,255.43 L325.01,255.62 L325.67,255.97 L326.15,255.80" stroke="#2b3f8f" stroke-width="1.15" fill="none" stroke-linejoin="round"/>
<path d="M285.48,255.80 L285.87,255.49 L286.40,255.21 L287.05,255.25 L287.80,254.63 L288.65,253.17 L289.66,252.42 L290.84,251.02 L292.09,249.17 L293.32,246.46 L294.42,245.12 L295.40,241.96 L296.33,239.61 L297.19,236.02 L298.00,233.32 L298.75,230.18 L299.41,227.52 L299.97,224.64 L300.50,221.77 L301.03,218.89 L301.63,216.18 L302.33,213.18 L303.09,210.26 L303.87,207.81 L304.60,205.37 L305.24,203.85 L305.77,202.64 L306.21,203.02 L306.61,203.16 L306.99,202.74 L307.40,203.13 L307.85,202.16 L308.30,201.10 L308.75,200.18 L309.18,199.35 L309.57,199.41 L309.90,200.68 L310.20,201.87 L310.47,204.03 L310.73,206.50 L311.01,208.51 L311.29,209.88 L311.55,211.26 L311.82,213.05 L312.12,214.76 L312.45,216.10 L312.84,217.25 L313.27,219.07 L313.72,220.25 L314.17,221.69 L314.62,222.66 L315.05,224.34 L315.48,225.84 L315.91,227.01 L316.35,228.71 L316.78,230.36 L317.21,231.34 L317.64,232.95 L318.08,234.84 L318.51,235.95 L318.94,237.62 L319.38,238.64 L319.81,240.17 L320.24,242.17 L320.67,243.58 L321.11,244.34 L321.53,246.08 L321.94,247.45 L322.35,248.61 L322.79,249.69 L323.27,250.73 L323.66,251.25 L323.96,252.25 L324.34,252.65 L325.01,253.54 L326.15,254.29 L327.88,254.88 L330.08,255.19 L332.56,255.49 L335.15,255.24 L337.69,256.17 L340.40,255.81 L343.40,256.25 L346.35,255.50 L348.88,255.91 L350.67,255.80" stroke="#c8203f" stroke-width="1.15" fill="none" stroke-linejoin="round"/>
<path d="M285.48,255.80 C285.65,255.15 285.48,254.24 286.49,251.90 C287.50,249.57 290.10,245.41 291.54,241.81 C292.98,238.20 294.06,234.60 295.14,230.27 C296.23,225.94 297.19,219.93 298.03,215.85 C298.87,211.76 299.59,208.03 300.19,205.75 C300.79,203.47 301.15,202.14 301.63,202.14 C302.12,202.14 302.60,204.67 303.08,205.75 C303.56,206.83 303.80,206.47 304.52,208.63 C305.24,210.80 306.44,215.12 307.40,218.73 C308.37,222.34 309.33,226.66 310.29,230.27 C311.25,233.88 312.21,237.24 313.17,240.37 C314.13,243.49 314.86,246.86 316.06,249.02 C317.26,251.18 318.94,252.22 320.38,253.35 C321.83,254.48 323.99,255.39 324.71,255.80 L324.71,255.5 L285.48,255.5 Z" stroke="none" stroke-width="0" fill="#a6d79a"/>
<g clip-path="url(#f13)">
<path d="M285.48,255.80 L285.66,255.11 L285.89,254.83 L286.20,253.33 L286.63,252.38 L287.21,251.08 L288.03,249.78 L289.06,247.20 L290.19,245.13 L291.29,242.31 L292.26,240.07 L293.08,238.31 L293.84,235.92 L294.54,233.78 L295.21,231.19 L295.87,228.82 L296.50,225.98 L297.11,223.28 L297.68,220.39 L298.23,217.89 L298.75,215.80 L299.24,213.83 L299.70,212.01 L300.13,210.16 L300.54,208.77 L300.91,207.41 L301.25,205.73 L301.54,205.76 L301.81,204.87 L302.08,204.46 L302.36,203.94 L302.63,203.91 L302.90,203.91 L303.17,204.18 L303.46,205.28 L303.80,205.64 L304.17,207.03 L304.58,208.52 L305.01,209.70 L305.47,210.98 L305.96,212.65 L306.49,215.19 L307.06,216.72 L307.66,218.63 L308.26,221.31 L308.85,222.76 L309.42,225.64 L310.00,227.20 L310.58,229.96 L311.15,232.21 L311.73,235.02 L312.30,236.71 L312.85,238.94 L313.41,241.21 L313.99,243.00 L314.62,244.99 L315.28,246.68 L315.97,247.62 L316.69,249.16 L317.44,250.72 L318.22,251.81 L319.05,253.03 L319.93,253.01 L320.83,254.21 L321.72,254.42 L322.55,254.64 L323.37,254.65 L324.22,255.43 L325.01,255.62 L325.67,255.97 L326.15,255.80" stroke="#2f8f55" stroke-width="1.15" fill="none" stroke-linejoin="round"/>
<path d="M285.48,255.80 L285.87,255.49 L286.40,255.21 L287.05,255.25 L287.80,254.63 L288.65,253.17 L289.66,252.42 L290.84,251.02 L292.09,249.17 L293.32,246.46 L294.42,245.12 L295.40,241.96 L296.33,239.61 L297.19,236.02 L298.00,233.32 L298.75,230.18 L299.41,227.52 L299.97,224.64 L300.50,221.77 L301.03,218.89 L301.63,216.18 L302.33,213.18 L303.09,210.26 L303.87,207.81 L304.60,205.37 L305.24,203.85 L305.77,202.64 L306.21,203.02 L306.61,203.16 L306.99,202.74 L307.40,203.13 L307.85,202.16 L308.30,201.10 L308.75,200.18 L309.18,199.35 L309.57,199.41 L309.90,200.68 L310.20,201.87 L310.47,204.03 L310.73,206.50 L311.01,208.51 L311.29,209.88 L311.55,211.26 L311.82,213.05 L312.12,214.76 L312.45,216.10 L312.84,217.25 L313.27,219.07 L313.72,220.25 L314.17,221.69 L314.62,222.66 L315.05,224.34 L315.48,225.84 L315.91,227.01 L316.35,228.71 L316.78,230.36 L317.21,231.34 L317.64,232.95 L318.08,234.84 L318.51,235.95 L318.94,237.62 L319.38,238.64 L319.81,240.17 L320.24,242.17 L320.67,243.58 L321.11,244.34 L321.53,246.08 L321.94,247.45 L322.35,248.61 L322.79,249.69 L323.27,250.73 L323.66,251.25 L323.96,252.25 L324.34,252.65 L325.01,253.54 L326.15,254.29 L327.88,254.88 L330.08,255.19 L332.56,255.49 L335.15,255.24 L337.69,256.17 L340.40,255.81 L343.40,256.25 L346.35,255.50 L348.88,255.91 L350.67,255.80" stroke="#a4663e" stroke-width="1.0" fill="none" stroke-linejoin="round"/>
</g>
<path d="M285.48,255.80 L285.55,255.36 L285.62,254.80 L285.75,254.34 L286.01,253.42 L286.49,251.76 L287.26,250.34 L288.29,248.49 L289.43,246.44 L290.56,244.42 L291.54,242.03 L292.36,239.98 L293.12,237.58 L293.82,234.95 L294.49,232.59 L295.14,229.83 L295.78,227.50 L296.38,224.19 L296.96,221.25 L297.51,218.18 L298.03,215.40 L298.52,213.69 L298.98,211.03 L299.41,209.25 L299.82,207.65 L300.19,205.56 L300.53,204.57 L300.82,203.16 L301.09,202.41 L301.36,202.48 L301.63,201.77 L301.92,202.85 L302.21,202.88 L302.50,204.35 L302.79,205.38 L303.08,205.36 L303.34,206.17 L303.58,206.61 L303.84,206.75 L304.14,207.38 L304.52,208.54 L305.00,210.15 L305.57,211.88 L306.18,214.34 L306.80,216.54 L307.40,218.77 L307.98,220.55 L308.56,223.68 L309.13,225.59 L309.71,227.94 L310.29,229.98 L310.87,232.20 L311.44,234.57 L312.02,236.43 L312.60,238.84 L313.17,240.34 L313.73,242.14 L314.26,244.44 L314.80,246.22 L315.39,248.01 L316.06,249.34 L316.83,250.26 L317.68,251.45 L318.58,251.64 L319.50,252.31 L320.38,252.90 L321.32,254.15 L322.32,254.85 L323.29,254.82 L324.12,255.72 L324.71,255.80" stroke="#34a049" stroke-width="1.15" fill="none" stroke-linejoin="round"/>
<rect x="285.7" y="191.5" width="65.2" height="64.5" fill="none" stroke="#1e1e1e" stroke-width="1.2"/>
<line x1="285.09999999999997" y1="256.0" x2="351.5" y2="256.0" stroke="#241a22" stroke-width="1.6"/>
<line x1="282.7" y1="193.0" x2="285.7" y2="193.0" stroke="#1e1e1e" stroke-width="1"/>
<line x1="282.7" y1="205.4" x2="285.7" y2="205.4" stroke="#1e1e1e" stroke-width="1"/>
<line x1="282.7" y1="217.8" x2="285.7" y2="217.8" stroke="#1e1e1e" stroke-width="1"/>
<line x1="282.7" y1="230.2" x2="285.7" y2="230.2" stroke="#1e1e1e" stroke-width="1"/>
<line x1="282.7" y1="242.6" x2="285.7" y2="242.6" stroke="#1e1e1e" stroke-width="1"/>
<line x1="282.7" y1="255.0" x2="285.7" y2="255.0" stroke="#1e1e1e" stroke-width="1"/>
<line x1="286.3" y1="256.0" x2="286.3" y2="259.5" stroke="#1e1e1e" stroke-width="0.9"/>
<line x1="287.09999999999997" y1="256.0" x2="287.09999999999997" y2="259.5" stroke="#1e1e1e" stroke-width="0.9"/>
<line x1="287.9" y1="256.0" x2="287.9" y2="259.5" stroke="#1e1e1e" stroke-width="0.9"/>
<line x1="292.09999999999997" y1="256.0" x2="292.09999999999997" y2="258.0" stroke="#1e1e1e" stroke-width="0.9"/>
<line x1="295.7" y1="256.0" x2="295.7" y2="259.0" stroke="#1e1e1e" stroke-width="0.9"/>
<line x1="315.7" y1="256.0" x2="315.7" y2="258.0" stroke="#1e1e1e" stroke-width="0.9"/>
<line x1="324.5" y1="256.0" x2="324.5" y2="259.0" stroke="#1e1e1e" stroke-width="0.9"/>
<line x1="343.9" y1="256.0" x2="343.9" y2="258.0" stroke="#1e1e1e" stroke-width="0.9"/>
<line x1="350.7" y1="256.0" x2="350.7" y2="259.0" stroke="#1e1e1e" stroke-width="0.9"/>
<text x="396.70000000000005" y="186.4" font-size="8.8" text-anchor="middle" textLength="37.5" lengthAdjust="spacingAndGlyphs" fill="#262626" stroke="#262626" stroke-width="0.1">Patient 11</text>
<clipPath id="f14"><path d="M364.06,254.50 C364.73,253.83 366.70,251.86 368.10,250.46 C369.49,249.07 370.98,247.58 372.42,246.13 C373.87,244.69 375.31,243.73 376.75,241.81 C378.19,239.88 379.88,237.00 381.08,234.60 C382.28,232.19 383.00,229.55 383.96,227.38 C384.92,225.22 385.88,223.78 386.85,221.62 C387.81,219.45 388.77,216.81 389.73,214.40 C390.69,212.00 391.65,209.00 392.62,207.19 C393.58,205.39 394.66,202.87 395.50,203.59 C396.34,204.31 396.94,208.75 397.66,211.52 C398.38,214.28 399.11,217.05 399.83,220.17 C400.55,223.30 401.27,226.90 401.99,230.27 C402.71,233.63 403.31,237.00 404.15,240.37 C405.00,243.73 406.08,248.18 407.04,250.46 C408.00,252.75 408.96,253.18 409.92,254.07 C410.88,254.96 412.33,255.51 412.81,255.80 L412.81,255.5 L364.06,255.5 Z"/></clipPath>
<path d="M364.06,254.50 L364.60,253.87 L365.37,252.53 L366.27,252.15 L367.21,250.50 L368.10,249.92 L368.94,248.29 L369.81,247.50 L370.68,246.73 L371.55,245.83 L372.42,245.05 L373.29,243.75 L374.15,242.84 L375.02,242.13 L375.88,241.62 L376.75,240.65 L377.64,238.82 L378.55,237.90 L379.45,236.05 L380.30,234.39 L381.08,233.38 L381.75,231.49 L382.33,230.31 L382.88,228.61 L383.41,227.18 L383.96,225.64 L384.55,224.83 L385.15,223.40 L385.74,221.95 L386.32,220.41 L386.85,218.78 L387.33,217.07 L387.78,215.32 L388.20,213.29 L388.61,211.24 L389.01,209.88 L389.41,208.54 L389.79,207.50 L390.16,206.56 L390.52,205.40 L390.88,204.94 L391.23,205.20 L391.57,206.30 L391.90,207.52 L392.24,208.31 L392.62,208.42 L393.02,208.44 L393.45,206.65 L393.89,205.63 L394.34,204.31 L394.78,204.10 L395.21,204.68 L395.64,205.41 L396.08,206.12 L396.51,207.29 L396.94,208.73 L397.38,210.02 L397.81,210.76 L398.24,212.80 L398.67,214.15 L399.11,215.79 L399.54,217.73 L399.97,219.46 L400.40,221.92 L400.84,223.64 L401.27,226.12 L401.70,228.16 L402.13,229.55 L402.57,230.99 L403.00,233.08 L403.43,234.97 L403.85,236.86 L404.26,238.79 L404.68,240.65 L405.12,242.66 L405.60,245.11 L406.12,246.26 L406.66,247.74 L407.24,249.57 L407.85,250.55 L408.48,252.30 L409.16,253.05 L409.87,253.58 L410.61,254.85 L411.35,255.42 L412.09,255.42 L412.87,256.10 L413.70,256.33 L414.51,255.58 L415.20,256.30 L415.69,255.80" stroke="#2b3f8f" stroke-width="1.15" fill="none" stroke-linejoin="round"/>
<path d="M364.06,255.80 L364.12,255.67 L364.15,255.48 L364.26,254.97 L364.57,254.55 L365.21,253.93 L366.27,253.82 L367.66,252.72 L369.25,251.89 L370.88,251.15 L372.42,250.51 L373.89,249.60 L375.38,247.94 L376.85,246.00 L378.28,244.62 L379.63,242.89 L380.90,241.51 L382.12,239.95 L383.27,238.80 L384.37,236.61 L385.40,234.88 L386.36,232.53 L387.24,229.30 L388.07,226.58 L388.89,224.59 L389.73,221.17 L390.62,219.00 L391.53,216.68 L392.43,213.66 L393.28,211.95 L394.06,210.42 L394.73,209.52 L395.32,208.80 L395.86,208.83 L396.39,208.90 L396.94,208.21 L397.54,207.10 L398.17,205.71 L398.78,204.06 L399.34,203.38 L399.83,202.72 L400.18,203.34 L400.44,205.32 L400.66,207.34 L400.91,209.40 L401.27,211.61 L401.77,212.38 L402.35,213.21 L402.98,213.84 L403.60,214.96 L404.15,216.11 L404.63,217.48 L405.07,218.83 L405.49,219.69 L405.90,221.58 L406.32,222.87 L406.76,224.36 L407.22,226.41 L407.67,228.57 L408.09,229.82 L408.48,231.72 L408.82,233.71 L409.11,234.87 L409.38,236.56 L409.65,239.06 L409.92,240.70 L410.19,242.08 L410.43,243.83 L410.68,245.42 L410.98,246.63 L411.37,247.99 L411.87,248.71 L412.48,249.44 L413.13,249.76 L413.74,249.49 L414.25,250.44 L414.61,250.78 L414.86,252.15 L415.08,252.31 L415.33,253.67 L415.69,254.31 L416.06,254.15 L416.40,254.59 L416.83,255.34 L417.52,256.01 L418.58,256.23 L420.30,256.15 L422.58,256.20 L425.02,255.72 L427.18,256.08 L428.67,255.80" stroke="#c8203f" stroke-width="1.15" fill="none" stroke-linejoin="round"/>
<path d="M364.06,254.50 C364.73,253.83 366.70,251.86 368.10,250.46 C369.49,249.07 370.98,247.58 372.42,246.13 C373.87,244.69 375.31,243.73 376.75,241.81 C378.19,239.88 379.88,237.00 381.08,234.60 C382.28,232.19 383.00,229.55 383.96,227.38 C384.92,225.22 385.88,223.78 386.85,221.62 C387.81,219.45 388.77,216.81 389.73,214.40 C390.69,212.00 391.65,209.00 392.62,207.19 C393.58,205.39 394.66,202.87 395.50,203.59 C396.34,204.31 396.94,208.75 397.66,211.52 C398.38,214.28 399.11,217.05 399.83,220.17 C400.55,223.30 401.27,226.90 401.99,230.27 C402.71,233.63 403.31,237.00 404.15,240.37 C405.00,243.73 406.08,248.18 407.04,250.46 C408.00,252.75 408.96,253.18 409.92,254.07 C410.88,254.96 412.33,255.51 412.81,255.80 L412.81,255.5 L364.06,255.5 Z" stroke="none" stroke-width="0" fill="#a6d79a"/>
<g clip-path="url(#f14)">
<path d="M364.06,254.50 L364.60,253.87 L365.37,252.53 L366.27,252.15 L367.21,250.50 L368.10,249.92 L368.94,248.29 L369.81,247.50 L370.68,246.73 L371.55,245.83 L372.42,245.05 L373.29,243.75 L374.15,242.84 L375.02,242.13 L375.88,241.62 L376.75,240.65 L377.64,238.82 L378.55,237.90 L379.45,236.05 L380.30,234.39 L381.08,233.38 L381.75,231.49 L382.33,230.31 L382.88,228.61 L383.41,227.18 L383.96,225.64 L384.55,224.83 L385.15,223.40 L385.74,221.95 L386.32,220.41 L386.85,218.78 L387.33,217.07 L387.78,215.32 L388.20,213.29 L388.61,211.24 L389.01,209.88 L389.41,208.54 L389.79,207.50 L390.16,206.56 L390.52,205.40 L390.88,204.94 L391.23,205.20 L391.57,206.30 L391.90,207.52 L392.24,208.31 L392.62,208.42 L393.02,208.44 L393.45,206.65 L393.89,205.63 L394.34,204.31 L394.78,204.10 L395.21,204.68 L395.64,205.41 L396.08,206.12 L396.51,207.29 L396.94,208.73 L397.38,210.02 L397.81,210.76 L398.24,212.80 L398.67,214.15 L399.11,215.79 L399.54,217.73 L399.97,219.46 L400.40,221.92 L400.84,223.64 L401.27,226.12 L401.70,228.16 L402.13,229.55 L402.57,230.99 L403.00,233.08 L403.43,234.97 L403.85,236.86 L404.26,238.79 L404.68,240.65 L405.12,242.66 L405.60,245.11 L406.12,246.26 L406.66,247.74 L407.24,249.57 L407.85,250.55 L408.48,252.30 L409.16,253.05 L409.87,253.58 L410.61,254.85 L411.35,255.42 L412.09,255.42 L412.87,256.10 L413.70,256.33 L414.51,255.58 L415.20,256.30 L415.69,255.80" stroke="#2f8f55" stroke-width="1.15" fill="none" stroke-linejoin="round"/>
<path d="M364.06,255.80 L364.12,255.67 L364.15,255.48 L364.26,254.97 L364.57,254.55 L365.21,253.93 L366.27,253.82 L367.66,252.72 L369.25,251.89 L370.88,251.15 L372.42,250.51 L373.89,249.60 L375.38,247.94 L376.85,246.00 L378.28,244.62 L379.63,242.89 L380.90,241.51 L382.12,239.95 L383.27,238.80 L384.37,236.61 L385.40,234.88 L386.36,232.53 L387.24,229.30 L388.07,226.58 L388.89,224.59 L389.73,221.17 L390.62,219.00 L391.53,216.68 L392.43,213.66 L393.28,211.95 L394.06,210.42 L394.73,209.52 L395.32,208.80 L395.86,208.83 L396.39,208.90 L396.94,208.21 L397.54,207.10 L398.17,205.71 L398.78,204.06 L399.34,203.38 L399.83,202.72 L400.18,203.34 L400.44,205.32 L400.66,207.34 L400.91,209.40 L401.27,211.61 L401.77,212.38 L402.35,213.21 L402.98,213.84 L403.60,214.96 L404.15,216.11 L404.63,217.48 L405.07,218.83 L405.49,219.69 L405.90,221.58 L406.32,222.87 L406.76,224.36 L407.22,226.41 L407.67,228.57 L408.09,229.82 L408.48,231.72 L408.82,233.71 L409.11,234.87 L409.38,236.56 L409.65,239.06 L409.92,240.70 L410.19,242.08 L410.43,243.83 L410.68,245.42 L410.98,246.63 L411.37,247.99 L411.87,248.71 L412.48,249.44 L413.13,249.76 L413.74,249.49 L414.25,250.44 L414.61,250.78 L414.86,252.15 L415.08,252.31 L415.33,253.67 L415.69,254.31 L416.06,254.15 L416.40,254.59 L416.83,255.34 L417.52,256.01 L418.58,256.23 L420.30,256.15 L422.58,256.20 L425.02,255.72 L427.18,256.08 L428.67,255.80" stroke="#a4663e" stroke-width="1.0" fill="none" stroke-linejoin="round"/>
</g>
<path d="M364.06,254.50 L364.60,254.32 L365.37,253.51 L366.27,251.88 L367.21,251.11 L368.10,250.23 L368.94,249.82 L369.81,248.75 L370.68,247.94 L371.55,247.24 L372.42,246.21 L373.29,245.62 L374.15,244.18 L375.02,243.84 L375.88,243.27 L376.75,241.93 L377.64,240.20 L378.55,239.46 L379.45,238.04 L380.30,235.90 L381.08,234.56 L381.75,233.07 L382.33,231.28 L382.88,230.26 L383.41,228.57 L383.96,227.11 L384.54,226.28 L385.12,225.36 L385.69,224.05 L386.27,223.09 L386.85,221.78 L387.42,220.27 L388.00,219.24 L388.58,217.61 L389.15,215.93 L389.73,214.27 L390.31,212.69 L390.88,211.73 L391.46,210.01 L392.04,208.26 L392.62,206.86 L393.20,206.06 L393.80,204.55 L394.40,203.67 L394.97,203.46 L395.50,203.16 L395.98,204.72 L396.42,205.59 L396.83,208.14 L397.24,209.77 L397.66,211.09 L398.10,213.33 L398.53,214.44 L398.96,216.15 L399.39,218.33 L399.83,220.19 L400.26,222.14 L400.69,224.36 L401.13,225.90 L401.56,228.18 L401.99,230.54 L402.41,232.67 L402.82,234.34 L403.24,236.32 L403.68,238.77 L404.15,239.92 L404.68,242.69 L405.26,244.99 L405.85,246.64 L406.45,248.43 L407.04,250.31 L407.62,251.55 L408.19,252.91 L408.77,253.09 L409.35,253.22 L409.92,254.18 L410.55,254.29 L411.22,255.16 L411.86,255.14 L412.42,256.03 L412.81,255.80" stroke="#34a049" stroke-width="1.15" fill="none" stroke-linejoin="round"/>
<rect x="364.1" y="191.5" width="65.2" height="64.5" fill="none" stroke="#1e1e1e" stroke-width="1.2"/>
<line x1="363.5" y1="256.0" x2="429.90000000000003" y2="256.0" stroke="#241a22" stroke-width="1.6"/>
<line x1="361.1" y1="193.0" x2="364.1" y2="193.0" stroke="#1e1e1e" stroke-width="1"/>
<line x1="361.1" y1="205.4" x2="364.1" y2="205.4" stroke="#1e1e1e" stroke-width="1"/>
<line x1="361.1" y1="217.8" x2="364.1" y2="217.8" stroke="#1e1e1e" stroke-width="1"/>
<line x1="361.1" y1="230.2" x2="364.1" y2="230.2" stroke="#1e1e1e" stroke-width="1"/>
<line x1="361.1" y1="242.6" x2="364.1" y2="242.6" stroke="#1e1e1e" stroke-width="1"/>
<line x1="361.1" y1="255.0" x2="364.1" y2="255.0" stroke="#1e1e1e" stroke-width="1"/>
<line x1="364.70000000000005" y1="256.0" x2="364.70000000000005" y2="259.5" stroke="#1e1e1e" stroke-width="0.9"/>
<line x1="365.5" y1="256.0" x2="365.5" y2="259.5" stroke="#1e1e1e" stroke-width="0.9"/>
<line x1="366.3" y1="256.0" x2="366.3" y2="259.5" stroke="#1e1e1e" stroke-width="0.9"/>
<line x1="370.5" y1="256.0" x2="370.5" y2="258.0" stroke="#1e1e1e" stroke-width="0.9"/>
<line x1="374.1" y1="256.0" x2="374.1" y2="259.0" stroke="#1e1e1e" stroke-width="0.9"/>
<line x1="394.1" y1="256.0" x2="394.1" y2="258.0" stroke="#1e1e1e" stroke-width="0.9"/>
<line x1="402.90000000000003" y1="256.0" x2="402.90000000000003" y2="259.0" stroke="#1e1e1e" stroke-width="0.9"/>
<line x1="422.3" y1="256.0" x2="422.3" y2="258.0" stroke="#1e1e1e" stroke-width="0.9"/>
<line x1="429.1" y1="256.0" x2="429.1" y2="259.0" stroke="#1e1e1e" stroke-width="0.9"/>
<text x="475.1" y="186.4" font-size="8.8" text-anchor="middle" textLength="37.5" lengthAdjust="spacingAndGlyphs" fill="#262626" stroke="#262626" stroke-width="0.1">Patient 12</text>
<clipPath id="f15"><path d="M442.77,254.07 C443.49,252.02 445.77,246.25 447.10,241.81 C448.42,237.36 449.62,232.91 450.70,227.38 C451.78,221.86 452.87,211.88 453.59,208.63 C454.31,205.39 454.43,207.79 455.03,207.91 C455.63,208.03 456.35,209.36 457.19,209.36 C458.03,209.36 459.24,206.83 460.08,207.91 C460.92,209.00 461.40,213.80 462.24,215.85 C463.08,217.89 464.16,218.49 465.12,220.17 C466.09,221.86 466.93,223.78 468.01,225.94 C469.09,228.11 470.41,230.75 471.62,233.15 C472.82,235.56 474.02,238.20 475.22,240.37 C476.42,242.53 477.50,244.21 478.83,246.13 C480.15,248.06 481.71,250.29 483.15,251.90 C484.60,253.51 486.76,255.15 487.48,255.80 L487.48,255.5 L442.77,255.5 Z"/></clipPath>
<path d="M444.21,254.07 L444.80,252.62 L445.63,250.46 L446.60,247.86 L447.60,244.71 L448.54,241.54 L449.43,239.40 L450.34,236.29 L451.24,232.91 L452.09,229.90 L452.87,227.45 L453.56,225.15 L454.19,223.51 L454.77,221.70 L455.29,220.15 L455.75,218.80 L456.11,217.84 L456.36,216.83 L456.58,216.55 L456.83,216.04 L457.19,216.18 L457.68,214.96 L458.24,214.55 L458.85,213.87 L459.48,213.40 L460.08,212.77 L460.67,212.84 L461.27,212.12 L461.86,212.43 L462.43,212.41 L462.96,211.67 L463.44,210.54 L463.88,209.50 L464.29,209.10 L464.70,207.92 L465.12,207.21 L465.56,206.56 L465.99,206.35 L466.42,206.11 L466.86,205.71 L467.29,205.47 L467.73,206.37 L468.19,207.29 L468.64,208.12 L469.07,208.11 L469.45,208.28 L469.78,208.76 L470.05,207.92 L470.30,206.88 L470.57,206.10 L470.89,205.57 L471.28,206.11 L471.71,206.53 L472.16,207.49 L472.61,207.80 L473.06,208.91 L473.50,209.01 L473.96,209.48 L474.41,209.05 L474.83,209.96 L475.22,210.25 L475.56,210.12 L475.85,210.93 L476.12,211.60 L476.39,212.00 L476.66,212.61 L476.95,213.97 L477.24,215.16 L477.53,216.38 L477.82,217.64 L478.11,218.38 L478.39,220.29 L478.68,221.03 L478.97,222.34 L479.26,223.20 L479.55,224.45 L479.83,225.27 L480.09,226.69 L480.36,228.25 L480.66,229.26 L480.99,229.90 L481.38,231.38 L481.80,232.00 L482.25,232.88 L482.71,233.53 L483.15,234.17 L483.58,236.25 L483.98,237.75 L484.40,239.24 L484.84,240.64 L485.32,241.70 L485.84,242.82 L486.38,244.37 L486.96,245.44 L487.57,246.31 L488.20,247.71 L488.89,248.76 L489.63,249.18 L490.38,249.89 L491.12,251.52 L491.81,252.16 L492.43,252.39 L493.01,253.24 L493.57,254.49 L494.13,255.60 L494.69,255.99 L495.32,255.77 L495.98,255.96 L496.63,255.74 L497.18,255.88 L497.58,255.80" stroke="#2b3f8f" stroke-width="1.15" fill="none" stroke-linejoin="round"/>
<path d="M445.65,254.07 L446.46,253.16 L447.62,250.72 L448.94,248.31 L450.27,246.91 L451.42,244.96 L452.38,243.40 L453.26,242.42 L454.09,241.07 L454.91,239.50 L455.75,239.16 L456.64,238.06 L457.55,237.41 L458.45,236.03 L459.30,235.87 L460.08,234.80 L460.75,233.57 L461.33,232.98 L461.88,231.68 L462.41,231.05 L462.96,230.50 L463.54,228.99 L464.12,227.74 L464.69,227.01 L465.27,225.82 L465.85,224.66 L466.42,223.80 L467.00,223.73 L467.58,223.52 L468.15,222.43 L468.73,222.00 L469.32,221.37 L469.92,220.89 L470.51,220.44 L471.08,219.57 L471.62,218.45 L472.09,217.77 L472.53,215.65 L472.95,214.52 L473.36,212.46 L473.78,211.74 L474.21,210.66 L474.64,210.26 L475.08,209.85 L475.51,209.07 L475.94,208.77 L476.38,207.69 L476.81,207.38 L477.24,205.81 L477.67,205.58 L478.11,204.19 L478.54,203.65 L478.97,201.93 L479.40,201.17 L479.84,200.63 L480.27,201.08 L480.71,201.75 L481.17,202.98 L481.62,205.04 L482.05,206.59 L482.43,207.00 L482.76,207.22 L483.03,206.72 L483.28,206.68 L483.55,205.88 L483.88,206.87 L484.26,207.26 L484.69,208.40 L485.14,210.58 L485.59,211.96 L486.04,213.07 L486.48,214.03 L486.94,214.30 L487.39,215.31 L487.82,215.89 L488.20,217.36 L488.53,218.38 L488.80,220.55 L489.05,222.22 L489.32,224.15 L489.64,226.36 L490.02,227.43 L490.42,229.11 L490.86,229.80 L491.32,231.62 L491.81,233.15 L492.34,234.63 L492.91,237.05 L493.50,238.70 L494.10,240.57 L494.69,241.68 L495.27,242.80 L495.85,244.19 L496.42,245.26 L497.00,246.26 L497.58,247.96 L498.15,248.91 L498.73,249.02 L499.31,250.35 L499.88,251.30 L500.46,251.60 L501.02,252.78 L501.55,253.47 L502.09,254.81 L502.68,255.64 L503.35,256.04 L504.19,256.01 L505.18,256.05 L506.18,255.67 L507.06,255.63 L507.67,255.80" stroke="#c8203f" stroke-width="1.15" fill="none" stroke-linejoin="round"/>
<path d="M442.77,254.07 C443.49,252.02 445.77,246.25 447.10,241.81 C448.42,237.36 449.62,232.91 450.70,227.38 C451.78,221.86 452.87,211.88 453.59,208.63 C454.31,205.39 454.43,207.79 455.03,207.91 C455.63,208.03 456.35,209.36 457.19,209.36 C458.03,209.36 459.24,206.83 460.08,207.91 C460.92,209.00 461.40,213.80 462.24,215.85 C463.08,217.89 464.16,218.49 465.12,220.17 C466.09,221.86 466.93,223.78 468.01,225.94 C469.09,228.11 470.41,230.75 471.62,233.15 C472.82,235.56 474.02,238.20 475.22,240.37 C476.42,242.53 477.50,244.21 478.83,246.13 C480.15,248.06 481.71,250.29 483.15,251.90 C484.60,253.51 486.76,255.15 487.48,255.80 L487.48,255.5 L442.77,255.5 Z" stroke="none" stroke-width="0" fill="#a6d79a"/>
<g clip-path="url(#f15)">
<path d="M444.21,254.07 L444.80,252.62 L445.63,250.46 L446.60,247.86 L447.60,244.71 L448.54,241.54 L449.43,239.40 L450.34,236.29 L451.24,232.91 L452.09,229.90 L452.87,227.45 L453.56,225.15 L454.19,223.51 L454.77,221.70 L455.29,220.15 L455.75,218.80 L456.11,217.84 L456.36,216.83 L456.58,216.55 L456.83,216.04 L457.19,216.18 L457.68,214.96 L458.24,214.55 L458.85,213.87 L459.48,213.40 L460.08,212.77 L460.67,212.84 L461.27,212.12 L461.86,212.43 L462.43,212.41 L462.96,211.67 L463.44,210.54 L463.88,209.50 L464.29,209.10 L464.70,207.92 L465.12,207.21 L465.56,206.56 L465.99,206.35 L466.42,206.11 L466.86,205.71 L467.29,205.47 L467.73,206.37 L468.19,207.29 L468.64,208.12 L469.07,208.11 L469.45,208.28 L469.78,208.76 L470.05,207.92 L470.30,206.88 L470.57,206.10 L470.89,205.57 L471.28,206.11 L471.71,206.53 L472.16,207.49 L472.61,207.80 L473.06,208.91 L473.50,209.01 L473.96,209.48 L474.41,209.05 L474.83,209.96 L475.22,210.25 L475.56,210.12 L475.85,210.93 L476.12,211.60 L476.39,212.00 L476.66,212.61 L476.95,213.97 L477.24,215.16 L477.53,216.38 L477.82,217.64 L478.11,218.38 L478.39,220.29 L478.68,221.03 L478.97,222.34 L479.26,223.20 L479.55,224.45 L479.83,225.27 L480.09,226.69 L480.36,228.25 L480.66,229.26 L480.99,229.90 L481.38,231.38 L481.80,232.00 L482.25,232.88 L482.71,233.53 L483.15,234.17 L483.58,236.25 L483.98,237.75 L484.40,239.24 L484.84,240.64 L485.32,241.70 L485.84,242.82 L486.38,244.37 L486.96,245.44 L487.57,246.31 L488.20,247.71 L488.89,248.76 L489.63,249.18 L490.38,249.89 L491.12,251.52 L491.81,252.16 L492.43,252.39 L493.01,253.24 L493.57,254.49 L494.13,255.60 L494.69,255.99 L495.32,255.77 L495.98,255.96 L496.63,255.74 L497.18,255.88 L497.58,255.80" stroke="#2f8f55" stroke-width="1.15" fill="none" stroke-linejoin="round"/>
<path d="M445.65,254.07 L446.46,253.16 L447.62,250.72 L448.94,248.31 L450.27,246.91 L451.42,244.96 L452.38,243.40 L453.26,242.42 L454.09,241.07 L454.91,239.50 L455.75,239.16 L456.64,238.06 L457.55,237.41 L458.45,236.03 L459.30,235.87 L460.08,234.80 L460.75,233.57 L461.33,232.98 L461.88,231.68 L462.41,231.05 L462.96,230.50 L463.54,228.99 L464.12,227.74 L464.69,227.01 L465.27,225.82 L465.85,224.66 L466.42,223.80 L467.00,223.73 L467.58,223.52 L468.15,222.43 L468.73,222.00 L469.32,221.37 L469.92,220.89 L470.51,220.44 L471.08,219.57 L471.62,218.45 L472.09,217.77 L472.53,215.65 L472.95,214.52 L473.36,212.46 L473.78,211.74 L474.21,210.66 L474.64,210.26 L475.08,209.85 L475.51,209.07 L475.94,208.77 L476.38,207.69 L476.81,207.38 L477.24,205.81 L477.67,205.58 L478.11,204.19 L478.54,203.65 L478.97,201.93 L479.40,201.17 L479.84,200.63 L480.27,201.08 L480.71,201.75 L481.17,202.98 L481.62,205.04 L482.05,206.59 L482.43,207.00 L482.76,207.22 L483.03,206.72 L483.28,206.68 L483.55,205.88 L483.88,206.87 L484.26,207.26 L484.69,208.40 L485.14,210.58 L485.59,211.96 L486.04,213.07 L486.48,214.03 L486.94,214.30 L487.39,215.31 L487.82,215.89 L488.20,217.36 L488.53,218.38 L488.80,220.55 L489.05,222.22 L489.32,224.15 L489.64,226.36 L490.02,227.43 L490.42,229.11 L490.86,229.80 L491.32,231.62 L491.81,233.15 L492.34,234.63 L492.91,237.05 L493.50,238.70 L494.10,240.57 L494.69,241.68 L495.27,242.80 L495.85,244.19 L496.42,245.26 L497.00,246.26 L497.58,247.96 L498.15,248.91 L498.73,249.02 L499.31,250.35 L499.88,251.30 L500.46,251.60 L501.02,252.78 L501.55,253.47 L502.09,254.81 L502.68,255.64 L503.35,256.04 L504.19,256.01 L505.18,256.05 L506.18,255.67 L507.06,255.63 L507.67,255.80" stroke="#a4663e" stroke-width="1.0" fill="none" stroke-linejoin="round"/>
</g>
<path d="M442.77,254.07 L443.37,252.88 L444.22,249.77 L445.21,247.24 L446.21,244.91 L447.10,242.16 L447.88,239.19 L448.62,236.49 L449.35,233.87 L450.04,231.01 L450.70,227.73 L451.35,223.90 L451.98,219.34 L452.57,214.88 L453.11,211.44 L453.59,208.99 L453.96,207.55 L454.23,207.25 L454.47,207.45 L454.72,207.56 L455.03,208.06 L455.40,208.17 L455.81,208.61 L456.24,208.66 L456.70,208.96 L457.19,209.22 L457.73,209.41 L458.33,208.35 L458.94,207.83 L459.53,208.08 L460.08,207.84 L460.54,209.10 L460.96,210.70 L461.36,212.18 L461.77,214.40 L462.24,215.92 L462.77,217.05 L463.34,217.72 L463.94,218.63 L464.54,218.97 L465.12,220.49 L465.69,220.92 L466.24,222.38 L466.80,223.68 L467.39,224.72 L468.01,226.37 L468.68,226.95 L469.40,228.92 L470.14,230.17 L470.88,231.62 L471.62,233.15 L472.34,234.98 L473.06,235.74 L473.78,237.53 L474.50,239.00 L475.22,240.13 L475.93,241.92 L476.63,242.93 L477.33,243.68 L478.06,245.03 L478.83,246.33 L479.65,246.99 L480.51,248.37 L481.39,249.83 L482.28,251.12 L483.15,251.56 L484.09,252.46 L485.09,253.71 L486.06,254.71 L486.89,255.57 L487.48,255.80" stroke="#34a049" stroke-width="1.15" fill="none" stroke-linejoin="round"/>
<rect x="442.5" y="191.5" width="65.2" height="64.5" fill="none" stroke="#1e1e1e" stroke-width="1.2"/>
<line x1="441.9" y1="256.0" x2="508.3" y2="256.0" stroke="#241a22" stroke-width="1.6"/>
<line x1="439.5" y1="193.0" x2="442.5" y2="193.0" stroke="#1e1e1e" stroke-width="1"/>
<line x1="439.5" y1="205.4" x2="442.5" y2="205.4" stroke="#1e1e1e" stroke-width="1"/>
<line x1="439.5" y1="217.8" x2="442.5" y2="217.8" stroke="#1e1e1e" stroke-width="1"/>
<line x1="439.5" y1="230.2" x2="442.5" y2="230.2" stroke="#1e1e1e" stroke-width="1"/>
<line x1="439.5" y1="242.6" x2="442.5" y2="242.6" stroke="#1e1e1e" stroke-width="1"/>
<line x1="439.5" y1="255.0" x2="442.5" y2="255.0" stroke="#1e1e1e" stroke-width="1"/>
<line x1="443.1" y1="256.0" x2="443.1" y2="259.5" stroke="#1e1e1e" stroke-width="0.9"/>
<line x1="443.9" y1="256.0" x2="443.9" y2="259.5" stroke="#1e1e1e" stroke-width="0.9"/>
<line x1="444.7" y1="256.0" x2="444.7" y2="259.5" stroke="#1e1e1e" stroke-width="0.9"/>
<line x1="448.9" y1="256.0" x2="448.9" y2="258.0" stroke="#1e1e1e" stroke-width="0.9"/>
<line x1="452.5" y1="256.0" x2="452.5" y2="259.0" stroke="#1e1e1e" stroke-width="0.9"/>
<line x1="472.5" y1="256.0" x2="472.5" y2="258.0" stroke="#1e1e1e" stroke-width="0.9"/>
<line x1="481.3" y1="256.0" x2="481.3" y2="259.0" stroke="#1e1e1e" stroke-width="0.9"/>
<line x1="500.7" y1="256.0" x2="500.7" y2="258.0" stroke="#1e1e1e" stroke-width="0.9"/>
<line x1="507.5" y1="256.0" x2="507.5" y2="259.0" stroke="#1e1e1e" stroke-width="0.9"/>
<text x="49.6" y="269.7" font-size="8.5" textLength="3.4" lengthAdjust="spacingAndGlyphs" fill="#262626" stroke="#262626" stroke-width="0.14">0</text>
<text x="53.5" y="269.7" font-size="8.5" textLength="8.2" lengthAdjust="spacingAndGlyphs" fill="#262626" stroke="#262626" stroke-width="0.14">10</text>
<text x="62.0" y="266.8" font-size="4.0" fill="#262626" stroke="#262626" stroke-width="0.1">2</text>
<text x="84.3" y="269.7" font-size="8.5" textLength="7.5" lengthAdjust="spacingAndGlyphs" fill="#262626" stroke="#262626" stroke-width="0.14">10</text>
<text x="92.0" y="266.8" font-size="4.0" fill="#262626" stroke="#262626" stroke-width="0.1">3</text>
<text x="109.8" y="269.7" font-size="8.5" textLength="8.2" lengthAdjust="spacingAndGlyphs" fill="#262626" stroke="#262626" stroke-width="0.14">10</text>
<text x="118.3" y="266.8" font-size="4.0" fill="#262626" stroke="#262626" stroke-width="0.1">4</text>
<text x="51.0" y="284.5" font-size="9.1" textLength="38.4" lengthAdjust="spacingAndGlyphs" fill="#262626" stroke="#262626" stroke-width="0.14">Plasma IgG</text>
<line x1="93" y1="281.7" x2="503" y2="281.7" stroke="#222" stroke-width="1.1"/>
<path d="M507.6,281.7 L499.8,278.1 L501.8,281.7 L499.8,285.29999999999995 Z" stroke="none" stroke-width="0" fill="#111"/>
</g>
<line x1="141.7" y1="301" x2="152.9" y2="301" stroke="#5cb85c" stroke-width="1.0"/>
<text x="157.3" y="303.8" font-size="7.9" textLength="18.9" lengthAdjust="spacingAndGlyphs" fill="#262626" stroke="#262626" stroke-width="0.14">Mock</text>
<line x1="188.4" y1="301" x2="199.6" y2="301" stroke="#3a4f7a" stroke-width="1.0"/>
<text x="203" y="303.8" font-size="7.7" textLength="59.5" lengthAdjust="spacingAndGlyphs" fill="#262626" stroke="#262626" stroke-width="0.14">HLA-DRB1*15:02</text>
<line x1="275.4" y1="301" x2="287.9" y2="301" stroke="#e03a4c" stroke-width="1.0"/>
<text x="291" y="303.8" font-size="7.7" textLength="85.2" lengthAdjust="spacingAndGlyphs" fill="#262626" stroke="#262626" stroke-width="0.14">DBY + HLA-DRB1*15:02</text>
<text x="61.2" y="339.3" font-size="11.2" font-weight="bold" textLength="7.5" lengthAdjust="spacingAndGlyphs" fill="#111" stroke="#111" stroke-width="0.45">B</text>
<line x1="114.5" y1="344.3" x2="114.5" y2="446.3" stroke="#2b2b2b" stroke-width="1.1"/>
<line x1="114.5" y1="459.7" x2="114.5" y2="474.2" stroke="#2b2b2b" stroke-width="1.1"/>
<line x1="111.8" y1="352.0" x2="114.5" y2="352.0" stroke="#2b2b2b" stroke-width="1"/>
<text x="105.0" y="356.1" font-size="8.4" text-anchor="end" textLength="7.5" lengthAdjust="spacingAndGlyphs" fill="#262626" stroke="#262626" stroke-width="0.14">10</text>
<text x="105.4" y="353.4" font-size="4.2" fill="#262626" stroke="#262626" stroke-width="0.1">4</text>
<line x1="111.8" y1="375.5" x2="114.5" y2="375.5" stroke="#2b2b2b" stroke-width="1"/>
<text x="105.0" y="379.6" font-size="8.4" text-anchor="end" textLength="7.5" lengthAdjust="spacingAndGlyphs" fill="#262626" stroke="#262626" stroke-width="0.14">10</text>
<text x="105.4" y="376.9" font-size="4.2" fill="#262626" stroke="#262626" stroke-width="0.1">3</text>
<line x1="111.8" y1="399.0" x2="114.5" y2="399.0" stroke="#2b2b2b" stroke-width="1"/>
<text x="105.0" y="403.1" font-size="8.4" text-anchor="end" textLength="7.5" lengthAdjust="spacingAndGlyphs" fill="#262626" stroke="#262626" stroke-width="0.14">10</text>
<text x="105.4" y="400.4" font-size="4.2" fill="#262626" stroke="#262626" stroke-width="0.1">2</text>
<line x1="111.8" y1="422.5" x2="114.5" y2="422.5" stroke="#2b2b2b" stroke-width="1"/>
<text x="105.0" y="426.6" font-size="8.4" text-anchor="end" textLength="7.5" lengthAdjust="spacingAndGlyphs" fill="#262626" stroke="#262626" stroke-width="0.14">10</text>
<text x="105.4" y="423.9" font-size="4.2" fill="#262626" stroke="#262626" stroke-width="0.1">1</text>
<line x1="111.8" y1="446.0" x2="114.5" y2="446.0" stroke="#2b2b2b" stroke-width="1"/>
<text x="105.0" y="450.1" font-size="8.4" text-anchor="end" textLength="7.5" lengthAdjust="spacingAndGlyphs" fill="#262626" stroke="#262626" stroke-width="0.14">10</text>
<text x="105.4" y="447.4" font-size="4.2" fill="#262626" stroke="#262626" stroke-width="0.1">0</text>
<line x1="111.8" y1="460.2" x2="117.6" y2="460.2" stroke="#2b2b2b" stroke-width="1"/>
<line x1="111.8" y1="446.0" x2="117.2" y2="446.0" stroke="#2b2b2b" stroke-width="1"/>
<text x="108.2" y="476.4" font-size="7.6" text-anchor="end" fill="#262626" stroke="#262626" stroke-width="0.14">0</text>
<line x1="114.5" y1="473.8" x2="233.8" y2="473.8" stroke="#7a7a7a" stroke-width="1.1"/>
<line x1="148.7" y1="473.8" x2="148.7" y2="476.3" stroke="#555" stroke-width="0.8"/>
<line x1="200.0" y1="473.8" x2="200.0" y2="476.3" stroke="#555" stroke-width="0.8"/>
<line x1="117.5" y1="412" x2="233.8" y2="412" stroke="#666" stroke-width="1.0" stroke-dasharray="1 1.2"/>
<text x="235.6" y="414.1" font-size="8.3" textLength="44.2" lengthAdjust="spacingAndGlyphs" fill="#262626" stroke="#262626" stroke-width="0.14">Cutoff value</text>
<text x="78.4" y="410.2" font-size="10.2" text-anchor="middle" textLength="104.7" lengthAdjust="spacingAndGlyphs" transform="rotate(-90 78.4 410.2)" fill="#262626" stroke="#262626" stroke-width="0.14">Anti-DBY/HLA class II complex</text>
<text x="88.3" y="409.1" font-size="10.2" text-anchor="middle" textLength="52.8" lengthAdjust="spacingAndGlyphs" transform="rotate(-90 88.3 409.1)" fill="#262626" stroke="#262626" stroke-width="0.14">antibody (MFI)</text>
<text x="148.6" y="487.1" font-size="7.6" text-anchor="middle" textLength="27.9" lengthAdjust="spacingAndGlyphs" fill="#262626" stroke="#262626" stroke-width="0.14">M-to-M</text>
<text x="148.6" y="496.9" font-size="7.6" text-anchor="middle" textLength="25.9" lengthAdjust="spacingAndGlyphs" fill="#262626" stroke="#262626" stroke-width="0.14">M-to-F</text>
<text x="149.0" y="506.9" font-size="7.6" text-anchor="middle" textLength="23.1" lengthAdjust="spacingAndGlyphs" fill="#262626" stroke="#262626" stroke-width="0.14">F-to-F</text>
<text x="199.7" y="487.1" font-size="7.6" text-anchor="middle" textLength="25.6" lengthAdjust="spacingAndGlyphs" fill="#262626" stroke="#262626" stroke-width="0.14">F-to-M</text>
<line x1="132.5" y1="473.8" x2="164.5" y2="473.8" stroke="#2d2a8c" stroke-width="3.4" stroke-linecap="round"/>
<line x1="184.3" y1="473.8" x2="215.5" y2="473.8" stroke="#e8451e" stroke-width="3.4" stroke-linecap="round"/>
<circle cx="148.0" cy="401.4" r="1.55" fill="none" stroke="#2d2a8c" stroke-width="1.2"/>
<circle cx="150.0" cy="403.3" r="1.55" fill="none" stroke="#2d2a8c" stroke-width="1.2"/>
<circle cx="148.7" cy="410.9" r="1.55" fill="none" stroke="#2d2a8c" stroke-width="1.2"/>
<circle cx="148.2" cy="413.4" r="1.55" fill="none" stroke="#2d2a8c" stroke-width="1.2"/>
<circle cx="149.2" cy="415.3" r="1.55" fill="none" stroke="#2d2a8c" stroke-width="1.2"/>
<circle cx="148.0" cy="417.2" r="1.55" fill="none" stroke="#2d2a8c" stroke-width="1.2"/>
<circle cx="149.4" cy="419.0" r="1.55" fill="none" stroke="#2d2a8c" stroke-width="1.2"/>
<circle cx="148.2" cy="421.0" r="1.55" fill="none" stroke="#2d2a8c" stroke-width="1.2"/>
<circle cx="149.0" cy="423.0" r="1.55" fill="none" stroke="#2d2a8c" stroke-width="1.2"/>
<circle cx="148.0" cy="424.8" r="1.55" fill="none" stroke="#2d2a8c" stroke-width="1.2"/>
<circle cx="148.7" cy="426.7" r="1.55" fill="none" stroke="#2d2a8c" stroke-width="1.2"/>
<circle cx="148.7" cy="431.8" r="1.55" fill="none" stroke="#2d2a8c" stroke-width="1.2"/>
<circle cx="146.2" cy="438.7" r="1.55" fill="none" stroke="#2d2a8c" stroke-width="1.2"/>
<circle cx="148.7" cy="438.7" r="1.55" fill="none" stroke="#2d2a8c" stroke-width="1.2"/>
<circle cx="151.0" cy="438.7" r="1.55" fill="none" stroke="#2d2a8c" stroke-width="1.2"/>
<circle cx="148.7" cy="445.7" r="1.55" fill="none" stroke="#2d2a8c" stroke-width="1.2"/>
<circle cx="147.5" cy="416.3" r="1.55" fill="none" stroke="#2d2a8c" stroke-width="1.2"/>
<circle cx="150.0" cy="420.0" r="1.55" fill="none" stroke="#2d2a8c" stroke-width="1.2"/>
<circle cx="147.6" cy="426.0" r="1.55" fill="none" stroke="#2d2a8c" stroke-width="1.2"/>
<circle cx="150.2" cy="426.7" r="1.55" fill="none" stroke="#2d2a8c" stroke-width="1.2"/>
<circle cx="147.6" cy="438.7" r="1.55" fill="none" stroke="#2d2a8c" stroke-width="1.2"/>
<circle cx="149.8" cy="438.7" r="1.55" fill="none" stroke="#2d2a8c" stroke-width="1.2"/>
<circle cx="148.4" cy="411.8" r="1.55" fill="none" stroke="#2d2a8c" stroke-width="1.2"/>
<circle cx="149.4" cy="418.0" r="1.55" fill="none" stroke="#2d2a8c" stroke-width="1.2"/>
<circle cx="147.8" cy="420.0" r="1.55" fill="none" stroke="#2d2a8c" stroke-width="1.2"/>
<circle cx="149.6" cy="424.0" r="1.55" fill="none" stroke="#2d2a8c" stroke-width="1.2"/>
<circle cx="148.0" cy="425.8" r="1.55" fill="none" stroke="#2d2a8c" stroke-width="1.2"/>
<circle cx="199.8" cy="372.0" r="1.55" fill="none" stroke="#e8451e" stroke-width="1.15"/>
<circle cx="199.6" cy="381.5" r="1.55" fill="none" stroke="#e8451e" stroke-width="1.15"/>
<circle cx="199.8" cy="383.4" r="1.55" fill="none" stroke="#e8451e" stroke-width="1.15"/>
<circle cx="199.6" cy="385.3" r="1.55" fill="none" stroke="#e8451e" stroke-width="1.15"/>
<circle cx="199.8" cy="389.7" r="1.55" fill="none" stroke="#e8451e" stroke-width="1.15"/>
<circle cx="199.4" cy="393.5" r="1.55" fill="none" stroke="#e8451e" stroke-width="1.15"/>
<circle cx="196.2" cy="398.0" r="1.55" fill="none" stroke="#e8451e" stroke-width="1.15"/>
<circle cx="203.6" cy="398.0" r="1.55" fill="none" stroke="#e8451e" stroke-width="1.15"/>
<circle cx="199.6" cy="398.0" r="1.55" fill="none" stroke="#e8451e" stroke-width="1.15"/>
<circle cx="198.0" cy="399.5" r="1.55" fill="none" stroke="#e8451e" stroke-width="1.15"/>
<circle cx="201.4" cy="399.5" r="1.55" fill="none" stroke="#e8451e" stroke-width="1.15"/>
<circle cx="199.6" cy="400.5" r="1.55" fill="none" stroke="#e8451e" stroke-width="1.15"/>
<circle cx="199.6" cy="403.0" r="1.55" fill="none" stroke="#e8451e" stroke-width="1.15"/>
<circle cx="199.8" cy="405.6" r="1.55" fill="none" stroke="#e8451e" stroke-width="1.15"/>
<circle cx="199.6" cy="408.0" r="1.55" fill="none" stroke="#e8451e" stroke-width="1.15"/>
<circle cx="199.6" cy="412.0" r="1.55" fill="none" stroke="#e8451e" stroke-width="1.15"/>
<circle cx="199.8" cy="415.7" r="1.55" fill="none" stroke="#e8451e" stroke-width="1.15"/>
<circle cx="199.6" cy="419.5" r="1.55" fill="none" stroke="#e8451e" stroke-width="1.15"/>
<circle cx="199.6" cy="422.0" r="1.55" fill="none" stroke="#e8451e" stroke-width="1.15"/>
<circle cx="199.1" cy="427.7" r="1.55" fill="none" stroke="#e8451e" stroke-width="1.15"/>
<circle cx="200.4" cy="427.7" r="1.55" fill="none" stroke="#e8451e" stroke-width="1.15"/>
<circle cx="199.6" cy="431.5" r="1.55" fill="none" stroke="#e8451e" stroke-width="1.15"/>
<circle cx="199.6" cy="442.3" r="1.55" fill="none" stroke="#e8451e" stroke-width="1.15"/>
<circle cx="199.6" cy="446.0" r="1.55" fill="none" stroke="#e8451e" stroke-width="1.15"/>
<circle cx="198.2" cy="394.5" r="1.55" fill="none" stroke="#e8451e" stroke-width="1.15"/>
<circle cx="201.0" cy="402.0" r="1.55" fill="none" stroke="#e8451e" stroke-width="1.15"/>
<circle cx="198.4" cy="406.5" r="1.55" fill="none" stroke="#e8451e" stroke-width="1.15"/>
<circle cx="201.2" cy="410.0" r="1.55" fill="none" stroke="#e8451e" stroke-width="1.15"/>
<circle cx="198.6" cy="413.5" r="1.55" fill="none" stroke="#e8451e" stroke-width="1.15"/>
<circle cx="200.8" cy="417.5" r="1.55" fill="none" stroke="#e8451e" stroke-width="1.15"/>
<circle cx="199.7" cy="382.4" r="1.55" fill="none" stroke="#e8451e" stroke-width="1.15"/>
<circle cx="199.7" cy="384.4" r="1.55" fill="none" stroke="#e8451e" stroke-width="1.15"/>
<circle cx="199.5" cy="386.5" r="1.55" fill="none" stroke="#e8451e" stroke-width="1.15"/>
<circle cx="199.7" cy="396.0" r="1.55" fill="none" stroke="#e8451e" stroke-width="1.15"/>
<circle cx="197.2" cy="397.0" r="1.55" fill="none" stroke="#e8451e" stroke-width="1.15"/>
<circle cx="202.4" cy="397.5" r="1.55" fill="none" stroke="#e8451e" stroke-width="1.15"/>
<circle cx="199.0" cy="420.5" r="1.55" fill="none" stroke="#e8451e" stroke-width="1.15"/>
<circle cx="200.2" cy="421.3" r="1.55" fill="none" stroke="#e8451e" stroke-width="1.15"/>
<circle cx="199.6" cy="426.0" r="1.55" fill="none" stroke="#e8451e" stroke-width="1.15"/>
<circle cx="200.6" cy="428.5" r="1.55" fill="none" stroke="#e8451e" stroke-width="1.15"/>
<circle cx="198.8" cy="429.0" r="1.55" fill="none" stroke="#e8451e" stroke-width="1.15"/>
<circle cx="199.6" cy="430.5" r="1.55" fill="none" stroke="#e8451e" stroke-width="1.15"/>
<text x="296.5" y="339.3" font-size="11.0" font-weight="bold" textLength="7.6" lengthAdjust="spacingAndGlyphs" fill="#111" stroke="#111" stroke-width="0.45">C</text>
<line x1="343.5" y1="353.3" x2="343.5" y2="474.3" stroke="#3a3a3a" stroke-width="1.2"/>
<line x1="342.9" y1="474.0" x2="481.6" y2="474.0" stroke="#3a3a3a" stroke-width="1.2"/>
<line x1="340.2" y1="469.2" x2="343.5" y2="469.2" stroke="#3a3a3a" stroke-width="1"/>
<text x="336.9" y="471.7" font-size="7.8" text-anchor="end" fill="#262626" stroke="#262626" stroke-width="0.14">0</text>
<line x1="340.2" y1="446.71999999999997" x2="343.5" y2="446.71999999999997" stroke="#3a3a3a" stroke-width="1"/>
<text x="336.9" y="449.21999999999997" font-size="7.8" text-anchor="end" fill="#262626" stroke="#262626" stroke-width="0.14">20</text>
<line x1="340.2" y1="424.24" x2="343.5" y2="424.24" stroke="#3a3a3a" stroke-width="1"/>
<text x="336.9" y="426.74" font-size="7.8" text-anchor="end" fill="#262626" stroke="#262626" stroke-width="0.14">40</text>
<line x1="340.2" y1="401.76" x2="343.5" y2="401.76" stroke="#3a3a3a" stroke-width="1"/>
<text x="336.9" y="404.26" font-size="7.8" text-anchor="end" fill="#262626" stroke="#262626" stroke-width="0.14">60</text>
<line x1="340.2" y1="379.28" x2="343.5" y2="379.28" stroke="#3a3a3a" stroke-width="1"/>
<text x="336.9" y="381.78" font-size="7.8" text-anchor="end" fill="#262626" stroke="#262626" stroke-width="0.14">80</text>
<line x1="340.2" y1="356.8" x2="343.5" y2="356.8" stroke="#3a3a3a" stroke-width="1"/>
<text x="336.9" y="359.3" font-size="7.8" text-anchor="end" fill="#262626" stroke="#262626" stroke-width="0.14">100</text>
<line x1="348.3" y1="474.0" x2="348.3" y2="477.0" stroke="#3a3a3a" stroke-width="1"/>
<line x1="369.8" y1="474.0" x2="369.8" y2="476.3" stroke="#3a3a3a" stroke-width="1"/>
<line x1="391.3" y1="474.0" x2="391.3" y2="477.0" stroke="#3a3a3a" stroke-width="1"/>
<line x1="412.8" y1="474.0" x2="412.8" y2="476.3" stroke="#3a3a3a" stroke-width="1"/>
<line x1="434.5" y1="474.0" x2="434.5" y2="477.0" stroke="#3a3a3a" stroke-width="1"/>
<line x1="456.1" y1="474.0" x2="456.1" y2="476.3" stroke="#3a3a3a" stroke-width="1"/>
<line x1="477.8" y1="474.0" x2="477.8" y2="477.0" stroke="#3a3a3a" stroke-width="1"/>
<text x="348.3" y="486.8" font-size="7.8" text-anchor="middle" fill="#262626" stroke="#262626" stroke-width="0.14">0</text>
<text x="391.3" y="486.8" font-size="7.8" text-anchor="middle" fill="#262626" stroke="#262626" stroke-width="0.14">1</text>
<text x="434.5" y="486.8" font-size="7.8" text-anchor="middle" fill="#262626" stroke="#262626" stroke-width="0.14">2</text>
<text x="477.8" y="486.8" font-size="7.8" text-anchor="middle" fill="#262626" stroke="#262626" stroke-width="0.14">3</text>
<text x="367.4" y="501.0" font-size="9.8" textLength="90.9" lengthAdjust="spacingAndGlyphs" fill="#262626" stroke="#262626" stroke-width="0.14">Years after transplantation</text>
<text x="446.2" y="465.6" font-size="7.4" textLength="34.7" lengthAdjust="spacingAndGlyphs" fill="#262626" stroke="#262626" stroke-width="0.14">P = 0.002</text>
<text x="305.6" y="412.8" font-size="10.6" text-anchor="middle" textLength="84.4" lengthAdjust="spacingAndGlyphs" transform="rotate(-90 305.6 412.8)" fill="#262626" stroke="#262626" stroke-width="0.14">Cumulative incidence of</text>
<text x="317.7" y="413.2" font-size="10.3" text-anchor="middle" textLength="38.5" lengthAdjust="spacingAndGlyphs" transform="rotate(-90 317.7 413.2)" fill="#262626" stroke="#262626" stroke-width="0.14">cGVHD (%)</text>
<path d="M347.80,469.20 L355.70,469.20 L356.20,466.30 L357.90,464.70 L359.00,462.40 L360.70,461.30 L363.00,460.20 L363.50,455.70 L367.50,455.10 L368.60,452.30 L369.70,450.10 L370.30,443.30 L370.80,439.90 L372.50,437.10 L374.00,435.40 L374.80,433.80 L407.00,433.80 L407.00,427.10 L478.00,427.10" stroke="#2f4358" stroke-width="1.15" fill="none" stroke-linejoin="miter"/>
<path d="M347.80,469.20 L355.70,469.20 L355.70,466.30 L356.80,466.30 L358.00,458.00 L359.20,451.00 L360.20,444.40 L360.70,441.10 L361.90,441.10 L362.70,437.00 L363.50,433.20 L364.30,429.00 L365.20,424.80 L366.90,423.10 L367.80,420.00 L368.60,417.50 L369.70,413.50 L370.80,410.70 L372.00,409.60 L374.80,409.60 L375.30,408.50 L377.00,408.50 L377.60,406.20 L379.30,406.20 L379.30,399.50 L387.00,399.50 L387.00,392.30 L405.20,392.30 L405.20,388.70 L478.50,388.70" stroke="#cc3358" stroke-width="1.25" fill="none" stroke-linejoin="miter"/>
<line x1="429.0" y1="387.2" x2="429.0" y2="390.2" stroke="#7a2a45" stroke-width="0.8"/>
<line x1="458.5" y1="387.2" x2="458.5" y2="390.2" stroke="#7a2a45" stroke-width="0.8"/>
<line x1="468.0" y1="387.2" x2="468.0" y2="390.2" stroke="#7a2a45" stroke-width="0.8"/>
<line x1="477.9" y1="387.2" x2="477.9" y2="390.2" stroke="#7a2a45" stroke-width="0.8"/>
<line x1="379.3" y1="432.3" x2="379.3" y2="435.3" stroke="#223" stroke-width="0.8"/>
<line x1="425.6" y1="425.6" x2="425.6" y2="428.6" stroke="#223" stroke-width="0.8"/>
<line x1="457.6" y1="425.6" x2="457.6" y2="428.6" stroke="#223" stroke-width="0.8"/>
<line x1="460.9" y1="425.6" x2="460.9" y2="428.6" stroke="#223" stroke-width="0.8"/>
<line x1="477.9" y1="425.6" x2="477.9" y2="428.6" stroke="#223" stroke-width="0.8"/>
<text x="297.4" y="513.5" font-size="8.3" textLength="37.6" lengthAdjust="spacingAndGlyphs" fill="#262626" stroke="#262626" stroke-width="0.14">No. at risk</text>
<text x="297.4" y="525.3" font-size="8.3" textLength="28.1" lengthAdjust="spacingAndGlyphs" fill="#262626" stroke="#262626" stroke-width="0.14">Positive</text>
<text x="297.4" y="537.1" font-size="8.3" textLength="32.8" lengthAdjust="spacingAndGlyphs" fill="#262626" stroke="#262626" stroke-width="0.14">Negative</text>
<text x="348.6" y="525.3" font-size="8.3" text-anchor="middle" fill="#262626" stroke="#262626" stroke-width="0.14">32</text>
<text x="348.6" y="537.1" font-size="8.3" text-anchor="middle" fill="#262626" stroke="#262626" stroke-width="0.14">41</text>
<text x="370.0" y="525.3" font-size="8.3" text-anchor="middle" fill="#262626" stroke="#262626" stroke-width="0.14">13</text>
<text x="370.0" y="537.1" font-size="8.3" text-anchor="middle" fill="#262626" stroke="#262626" stroke-width="0.14">20</text>
<text x="391.2" y="525.3" font-size="8.3" text-anchor="middle" fill="#262626" stroke="#262626" stroke-width="0.14">6</text>
<text x="391.2" y="537.1" font-size="8.3" text-anchor="middle" fill="#262626" stroke="#262626" stroke-width="0.14">13</text>
<text x="412.6" y="525.3" font-size="8.3" text-anchor="middle" fill="#262626" stroke="#262626" stroke-width="0.14">5</text>
<text x="412.6" y="537.1" font-size="8.3" text-anchor="middle" fill="#262626" stroke="#262626" stroke-width="0.14">9</text>
<text x="434.0" y="525.3" font-size="8.3" text-anchor="middle" fill="#262626" stroke="#262626" stroke-width="0.14">3</text>
<text x="434.0" y="537.1" font-size="8.3" text-anchor="middle" fill="#262626" stroke="#262626" stroke-width="0.14">6</text>
<text x="455.6" y="525.3" font-size="8.3" text-anchor="middle" fill="#262626" stroke="#262626" stroke-width="0.14">3</text>
<text x="455.6" y="537.1" font-size="8.3" text-anchor="middle" fill="#262626" stroke="#262626" stroke-width="0.14">6</text>
<text x="476.8" y="525.3" font-size="8.3" text-anchor="middle" fill="#262626" stroke="#262626" stroke-width="0.14">1</text>
<text x="476.8" y="537.1" font-size="8.3" text-anchor="middle" fill="#262626" stroke="#262626" stroke-width="0.14">3</text>
<line x1="296.8" y1="552.7" x2="309.0" y2="552.7" stroke="#e03a55" stroke-width="1.0"/>
<text x="312.8" y="555.4" font-size="7.9" textLength="168.2" lengthAdjust="spacingAndGlyphs" fill="#262626" stroke="#262626" stroke-width="0.14">Anti-DBY/HLA class II complex antibody positive</text>
<line x1="296.8" y1="563.9" x2="309.0" y2="563.9" stroke="#4a4d80" stroke-width="1.0"/>
<text x="312.8" y="566.6" font-size="7.9" textLength="170.9" lengthAdjust="spacingAndGlyphs" fill="#262626" stroke="#262626" stroke-width="0.14">Anti-DBY/HLA class II complex antibody negative</text>
<text x="61.0" y="530.9" font-size="11.0" font-weight="bold" textLength="7.8" lengthAdjust="spacingAndGlyphs" fill="#111" stroke="#111" stroke-width="0.45">D</text>
<line x1="114.5" y1="547.0" x2="114.5" y2="643.0" stroke="#2b2b2b" stroke-width="1.1"/>
<line x1="114.5" y1="656.5" x2="114.5" y2="670.8" stroke="#2b2b2b" stroke-width="1.1"/>
<line x1="111.5" y1="656.5" x2="117.5" y2="656.5" stroke="#2b2b2b" stroke-width="1"/>
<line x1="111.6" y1="642.6" x2="116.4" y2="642.6" stroke="#2b2b2b" stroke-width="1"/>
<line x1="111.8" y1="551.0" x2="114.5" y2="551.0" stroke="#2b2b2b" stroke-width="1"/>
<text x="105.0" y="555.1" font-size="8.4" text-anchor="end" textLength="7.5" lengthAdjust="spacingAndGlyphs" fill="#262626" stroke="#262626" stroke-width="0.14">10</text>
<text x="105.4" y="552.4" font-size="4.2" fill="#262626" stroke="#262626" stroke-width="0.1">4</text>
<line x1="111.8" y1="573.8" x2="114.5" y2="573.8" stroke="#2b2b2b" stroke-width="1"/>
<text x="105.0" y="577.9" font-size="8.4" text-anchor="end" textLength="7.5" lengthAdjust="spacingAndGlyphs" fill="#262626" stroke="#262626" stroke-width="0.14">10</text>
<text x="105.4" y="575.1999999999999" font-size="4.2" fill="#262626" stroke="#262626" stroke-width="0.1">3</text>
<line x1="111.8" y1="596.8" x2="114.5" y2="596.8" stroke="#2b2b2b" stroke-width="1"/>
<text x="105.0" y="600.9" font-size="8.4" text-anchor="end" textLength="7.5" lengthAdjust="spacingAndGlyphs" fill="#262626" stroke="#262626" stroke-width="0.14">10</text>
<text x="105.4" y="598.1999999999999" font-size="4.2" fill="#262626" stroke="#262626" stroke-width="0.1">2</text>
<line x1="111.8" y1="619.4" x2="114.5" y2="619.4" stroke="#2b2b2b" stroke-width="1"/>
<text x="105.0" y="623.5" font-size="8.4" text-anchor="end" textLength="7.5" lengthAdjust="spacingAndGlyphs" fill="#262626" stroke="#262626" stroke-width="0.14">10</text>
<text x="105.4" y="620.8" font-size="4.2" fill="#262626" stroke="#262626" stroke-width="0.1">1</text>
<line x1="111.8" y1="642.6" x2="114.5" y2="642.6" stroke="#2b2b2b" stroke-width="1"/>
<text x="105.0" y="646.7" font-size="8.4" text-anchor="end" textLength="7.5" lengthAdjust="spacingAndGlyphs" fill="#262626" stroke="#262626" stroke-width="0.14">10</text>
<text x="105.4" y="644.0" font-size="4.2" fill="#262626" stroke="#262626" stroke-width="0.1">0</text>
<text x="108.2" y="673.0" font-size="7.6" text-anchor="end" fill="#262626" stroke="#262626" stroke-width="0.14">0</text>
<line x1="111.5" y1="670.5" x2="239.5" y2="670.5" stroke="#2b2b2b" stroke-width="1.1"/>
<line x1="114.3" y1="670.5" x2="114.3" y2="673.5" stroke="#2b2b2b" stroke-width="1"/>
<text x="114.3" y="683.4" font-size="7.8" text-anchor="middle" fill="#262626" stroke="#262626" stroke-width="0.14">0</text>
<line x1="154.3" y1="670.5" x2="154.3" y2="673.5" stroke="#2b2b2b" stroke-width="1"/>
<text x="154.3" y="683.4" font-size="7.8" text-anchor="middle" fill="#262626" stroke="#262626" stroke-width="0.14">0.2</text>
<line x1="194.3" y1="670.5" x2="194.3" y2="673.5" stroke="#2b2b2b" stroke-width="1"/>
<text x="194.3" y="683.4" font-size="7.8" text-anchor="middle" fill="#262626" stroke="#262626" stroke-width="0.14">0.4</text>
<line x1="234.2" y1="670.5" x2="234.2" y2="673.5" stroke="#2b2b2b" stroke-width="1"/>
<text x="234.2" y="683.4" font-size="7.8" text-anchor="middle" fill="#262626" stroke="#262626" stroke-width="0.14">0.6</text>
<text x="126.6" y="696.9" font-size="9.7" textLength="101.8" lengthAdjust="spacingAndGlyphs" fill="#262626" stroke="#262626" stroke-width="0.14">Anti-DBY antibody (OD value)</text>
<text x="78.4" y="607.5" font-size="10.2" text-anchor="middle" textLength="103.4" lengthAdjust="spacingAndGlyphs" transform="rotate(-90 78.4 607.5)" fill="#262626" stroke="#262626" stroke-width="0.14">Anti-DBY/HLA class II complex</text>
<text x="88.8" y="607.5" font-size="10.2" text-anchor="middle" textLength="52.9" lengthAdjust="spacingAndGlyphs" transform="rotate(-90 88.8 607.5)" fill="#262626" stroke="#262626" stroke-width="0.14">antibody (MFI)</text>
<line x1="141.8" y1="553.0" x2="141.8" y2="668.0" stroke="#666" stroke-width="1.0" stroke-dasharray="1 1.2"/>
<line x1="117.0" y1="609.3" x2="232.6" y2="609.3" stroke="#666" stroke-width="1.0" stroke-dasharray="1 1.2"/>
<text x="119.5" y="544.5" font-size="8.4" textLength="45" lengthAdjust="spacingAndGlyphs" fill="#262626" stroke="#262626" stroke-width="0.14">Cutoff value</text>
<text x="237.7" y="612.0" font-size="8.3" textLength="44.3" lengthAdjust="spacingAndGlyphs" fill="#262626" stroke="#262626" stroke-width="0.14">Cutoff value</text>
<text x="115.5" y="559.0" font-size="7.8" textLength="22.7" lengthAdjust="spacingAndGlyphs" fill="#262626" stroke="#262626" stroke-width="0.14">19.1%</text>
<text x="207.0" y="559.0" font-size="7.8" textLength="22.5" lengthAdjust="spacingAndGlyphs" fill="#262626" stroke="#262626" stroke-width="0.14">24.7%</text>
<text x="117.0" y="666.9" font-size="7.8" textLength="22.1" lengthAdjust="spacingAndGlyphs" fill="#262626" stroke="#262626" stroke-width="0.14">53.4%</text>
<text x="209.5" y="666.9" font-size="7.8" textLength="18.5" lengthAdjust="spacingAndGlyphs" fill="#262626" stroke="#262626" stroke-width="0.14">2.7%</text>
<line x1="112.8" y1="670.3" x2="137.0" y2="670.3" stroke="#c0243c" stroke-width="3.3" stroke-linecap="round"/>
<circle cx="115" cy="670.3" r="0.6" fill="#e58a98"/>
<circle cx="118" cy="670.3" r="0.6" fill="#e58a98"/>
<circle cx="121" cy="670.3" r="0.6" fill="#e58a98"/>
<circle cx="124" cy="670.3" r="0.6" fill="#e58a98"/>
<circle cx="127" cy="670.3" r="0.6" fill="#e58a98"/>
<circle cx="130" cy="670.3" r="0.6" fill="#e58a98"/>
<circle cx="133" cy="670.3" r="0.6" fill="#e58a98"/>
<circle cx="136" cy="670.3" r="0.6" fill="#e58a98"/>
<circle cx="114.7" cy="570.3" r="1.5" fill="none" stroke="#c0243c" stroke-width="0.95"/>
<circle cx="124.9" cy="583.4" r="1.5" fill="none" stroke="#c0243c" stroke-width="0.95"/>
<circle cx="133.0" cy="581.9" r="1.5" fill="none" stroke="#c0243c" stroke-width="0.95"/>
<circle cx="123.1" cy="587.8" r="1.5" fill="none" stroke="#c0243c" stroke-width="0.95"/>
<circle cx="120.1" cy="591.1" r="1.5" fill="none" stroke="#c0243c" stroke-width="0.95"/>
<circle cx="125.6" cy="592.4" r="1.5" fill="none" stroke="#c0243c" stroke-width="0.95"/>
<circle cx="131.5" cy="591.4" r="1.5" fill="none" stroke="#c0243c" stroke-width="0.95"/>
<circle cx="117.8" cy="594.9" r="1.5" fill="none" stroke="#c0243c" stroke-width="0.95"/>
<circle cx="122.1" cy="595.9" r="1.5" fill="none" stroke="#c0243c" stroke-width="0.95"/>
<circle cx="116.4" cy="598.0" r="1.5" fill="none" stroke="#c0243c" stroke-width="0.95"/>
<circle cx="121.0" cy="603.0" r="1.5" fill="none" stroke="#c0243c" stroke-width="0.95"/>
<circle cx="128.0" cy="604.7" r="1.5" fill="none" stroke="#c0243c" stroke-width="0.95"/>
<circle cx="124.9" cy="606.8" r="1.5" fill="none" stroke="#c0243c" stroke-width="0.95"/>
<circle cx="127.7" cy="608.0" r="1.5" fill="none" stroke="#c0243c" stroke-width="0.95"/>
<circle cx="136.0" cy="610.3" r="1.5" fill="none" stroke="#c0243c" stroke-width="0.95"/>
<circle cx="119.6" cy="613.6" r="1.5" fill="none" stroke="#c0243c" stroke-width="0.95"/>
<circle cx="121.4" cy="616.2" r="1.5" fill="none" stroke="#c0243c" stroke-width="0.95"/>
<circle cx="124.9" cy="617.0" r="1.5" fill="none" stroke="#c0243c" stroke-width="0.95"/>
<circle cx="115.0" cy="619.1" r="1.5" fill="none" stroke="#c0243c" stroke-width="0.95"/>
<circle cx="137.5" cy="619.1" r="1.5" fill="none" stroke="#c0243c" stroke-width="0.95"/>
<circle cx="117.8" cy="624.7" r="1.5" fill="none" stroke="#c0243c" stroke-width="0.95"/>
<circle cx="117.5" cy="626.4" r="1.5" fill="none" stroke="#c0243c" stroke-width="0.95"/>
<circle cx="116.8" cy="629.2" r="1.5" fill="none" stroke="#c0243c" stroke-width="0.95"/>
<circle cx="120.3" cy="639.3" r="1.5" fill="none" stroke="#c0243c" stroke-width="0.95"/>
<circle cx="119.2" cy="643.0" r="1.5" fill="none" stroke="#c0243c" stroke-width="0.95"/>
<circle cx="124.2" cy="642.8" r="1.5" fill="none" stroke="#c0243c" stroke-width="0.95"/>
<circle cx="142.9" cy="580.6" r="1.5" fill="none" stroke="#c0243c" stroke-width="0.95"/>
<circle cx="151.8" cy="579.8" r="1.5" fill="none" stroke="#c0243c" stroke-width="0.95"/>
<circle cx="170.8" cy="587.0" r="1.5" fill="none" stroke="#c0243c" stroke-width="0.95"/>
<circle cx="143.5" cy="593.4" r="1.5" fill="none" stroke="#c0243c" stroke-width="0.95"/>
<circle cx="143.2" cy="597.4" r="1.5" fill="none" stroke="#c0243c" stroke-width="0.95"/>
<circle cx="148.9" cy="597.9" r="1.5" fill="none" stroke="#c0243c" stroke-width="0.95"/>
<circle cx="153.9" cy="597.9" r="1.5" fill="none" stroke="#c0243c" stroke-width="0.95"/>
<circle cx="159.8" cy="596.6" r="1.5" fill="none" stroke="#c0243c" stroke-width="0.95"/>
<circle cx="171.1" cy="597.4" r="1.5" fill="none" stroke="#c0243c" stroke-width="0.95"/>
<circle cx="144.1" cy="601.0" r="1.5" fill="none" stroke="#c0243c" stroke-width="0.95"/>
<circle cx="150.9" cy="601.9" r="1.5" fill="none" stroke="#c0243c" stroke-width="0.95"/>
<circle cx="150.9" cy="603.2" r="1.5" fill="none" stroke="#c0243c" stroke-width="0.95"/>
<circle cx="148.9" cy="605.4" r="1.5" fill="none" stroke="#c0243c" stroke-width="0.95"/>
<circle cx="153.3" cy="604.8" r="1.5" fill="none" stroke="#c0243c" stroke-width="0.95"/>
<circle cx="156.3" cy="605.9" r="1.5" fill="none" stroke="#c0243c" stroke-width="0.95"/>
<circle cx="175.9" cy="601.7" r="1.5" fill="none" stroke="#c0243c" stroke-width="0.95"/>
<circle cx="198.0" cy="600.3" r="1.5" fill="none" stroke="#c0243c" stroke-width="0.95"/>
<circle cx="226.3" cy="597.7" r="1.5" fill="none" stroke="#c0243c" stroke-width="0.95"/>
<circle cx="156.9" cy="618.9" r="1.5" fill="none" stroke="#c0243c" stroke-width="0.95"/>
<circle cx="200.8" cy="670.5" r="1.5" fill="#b02a40" stroke="#c0243c" stroke-width="0.8"/>
<rect x="0.5" y="0.5" width="519" height="710" fill="none" stroke="#4e4e4e" stroke-width="1"/>
</svg>
</body></html>
